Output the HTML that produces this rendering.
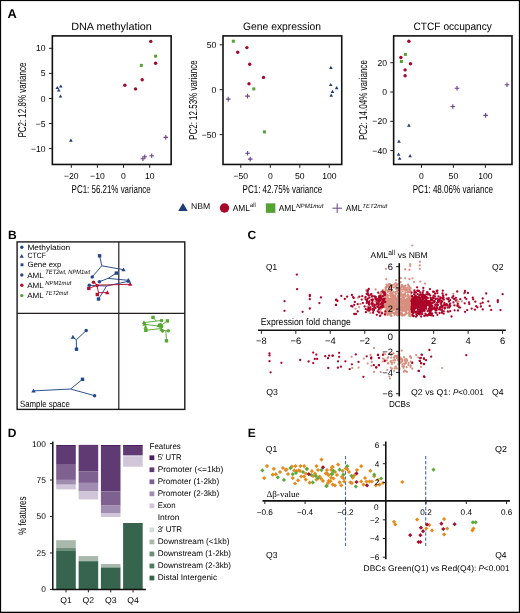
<!DOCTYPE html><html><head><meta charset="utf-8"><style>html,body{margin:0;padding:0;background:#fff}svg{display:block;filter:blur(0.35px)}text{font-family:"Liberation Sans",sans-serif;text-rendering:geometricPrecision}</style></head><body>
<svg width="520" height="613" viewBox="0 0 520 613">
<rect x="0" y="0" width="520" height="613" fill="#fff"/>
<text x="7.60" y="18.10" font-size="12.8" font-weight="bold" fill="#000">A</text>
<rect x="52.35" y="35.90" width="118.80" height="128.55" fill="none" stroke="#111" stroke-width="1.6"/>
<text x="71.20" y="29.90" font-size="10.7" textLength="80.70" lengthAdjust="spacingAndGlyphs">DNA methylation</text>
<text x="111.15" y="192.90" font-size="11.4" text-anchor="middle" textLength="79.10" lengthAdjust="spacingAndGlyphs">PC1: 56.21% variance</text>
<text x="25.90" y="100.10" font-size="11.4" text-anchor="middle" textLength="75.00" lengthAdjust="spacingAndGlyphs" transform="rotate(-90 25.90 100.10)">PC2: 12.8% variance</text>
<line x1="48.95" y1="48.30" x2="52.35" y2="48.30" stroke="#231f20" stroke-width="1.0"/>
<text x="45.65" y="51.35" font-size="8.6" text-anchor="end">10</text>
<line x1="48.95" y1="73.40" x2="52.35" y2="73.40" stroke="#231f20" stroke-width="1.0"/>
<text x="45.65" y="76.45" font-size="8.6" text-anchor="end">5</text>
<line x1="48.95" y1="98.50" x2="52.35" y2="98.50" stroke="#231f20" stroke-width="1.0"/>
<text x="45.65" y="101.55" font-size="8.6" text-anchor="end">0</text>
<line x1="48.95" y1="123.50" x2="52.35" y2="123.50" stroke="#231f20" stroke-width="1.0"/>
<text x="45.65" y="126.55" font-size="8.6" text-anchor="end">−5</text>
<line x1="48.95" y1="148.60" x2="52.35" y2="148.60" stroke="#231f20" stroke-width="1.0"/>
<text x="45.65" y="151.65" font-size="8.6" text-anchor="end">−10</text>
<line x1="71.30" y1="164.45" x2="71.30" y2="167.85" stroke="#231f20" stroke-width="1.0"/>
<text x="71.30" y="178.70" font-size="8.6" text-anchor="middle">−20</text>
<line x1="97.40" y1="164.45" x2="97.40" y2="167.85" stroke="#231f20" stroke-width="1.0"/>
<text x="97.40" y="178.70" font-size="8.6" text-anchor="middle">−10</text>
<line x1="123.50" y1="164.45" x2="123.50" y2="167.85" stroke="#231f20" stroke-width="1.0"/>
<text x="123.50" y="178.70" font-size="8.6" text-anchor="middle">0</text>
<line x1="149.70" y1="164.45" x2="149.70" y2="167.85" stroke="#231f20" stroke-width="1.0"/>
<text x="149.70" y="178.70" font-size="8.6" text-anchor="middle">10</text>
<rect x="223.00" y="35.90" width="118.73" height="128.55" fill="none" stroke="#111" stroke-width="1.6"/>
<text x="243.10" y="29.90" font-size="10.7" textLength="77.90" lengthAdjust="spacingAndGlyphs">Gene expression</text>
<text x="282.37" y="192.90" font-size="11.4" text-anchor="middle" textLength="79.60" lengthAdjust="spacingAndGlyphs">PC1: 42.75% variance</text>
<text x="196.55" y="100.10" font-size="11.4" text-anchor="middle" textLength="79.60" lengthAdjust="spacingAndGlyphs" transform="rotate(-90 196.55 100.10)">PC2: 12.53% variance</text>
<line x1="219.60" y1="44.80" x2="223.00" y2="44.80" stroke="#231f20" stroke-width="1.0"/>
<text x="216.30" y="47.85" font-size="8.6" text-anchor="end">50</text>
<line x1="219.60" y1="89.70" x2="223.00" y2="89.70" stroke="#231f20" stroke-width="1.0"/>
<text x="216.30" y="92.75" font-size="8.6" text-anchor="end">0</text>
<line x1="219.60" y1="134.60" x2="223.00" y2="134.60" stroke="#231f20" stroke-width="1.0"/>
<text x="216.30" y="137.65" font-size="8.6" text-anchor="end">−50</text>
<line x1="240.80" y1="164.45" x2="240.80" y2="167.85" stroke="#231f20" stroke-width="1.0"/>
<text x="240.80" y="178.70" font-size="8.6" text-anchor="middle">−50</text>
<line x1="270.30" y1="164.45" x2="270.30" y2="167.85" stroke="#231f20" stroke-width="1.0"/>
<text x="270.30" y="178.70" font-size="8.6" text-anchor="middle">0</text>
<line x1="299.80" y1="164.45" x2="299.80" y2="167.85" stroke="#231f20" stroke-width="1.0"/>
<text x="299.80" y="178.70" font-size="8.6" text-anchor="middle">50</text>
<line x1="329.30" y1="164.45" x2="329.30" y2="167.85" stroke="#231f20" stroke-width="1.0"/>
<text x="329.30" y="178.70" font-size="8.6" text-anchor="middle">100</text>
<rect x="393.65" y="35.90" width="118.35" height="128.55" fill="none" stroke="#111" stroke-width="1.6"/>
<text x="413.50" y="29.90" font-size="10.7" textLength="78.40" lengthAdjust="spacingAndGlyphs">CTCF occupancy</text>
<text x="452.82" y="192.90" font-size="11.4" text-anchor="middle" textLength="80.20" lengthAdjust="spacingAndGlyphs">PC1: 48.06% variance</text>
<text x="367.20" y="100.10" font-size="11.4" text-anchor="middle" textLength="79.90" lengthAdjust="spacingAndGlyphs" transform="rotate(-90 367.20 100.10)">PC2: 14.04% variance</text>
<line x1="390.25" y1="62.70" x2="393.65" y2="62.70" stroke="#231f20" stroke-width="1.0"/>
<text x="386.95" y="65.75" font-size="8.6" text-anchor="end">20</text>
<line x1="390.25" y1="92.00" x2="393.65" y2="92.00" stroke="#231f20" stroke-width="1.0"/>
<text x="386.95" y="95.05" font-size="8.6" text-anchor="end">0</text>
<line x1="390.25" y1="121.30" x2="393.65" y2="121.30" stroke="#231f20" stroke-width="1.0"/>
<text x="386.95" y="124.35" font-size="8.6" text-anchor="end">−20</text>
<line x1="390.25" y1="150.60" x2="393.65" y2="150.60" stroke="#231f20" stroke-width="1.0"/>
<text x="386.95" y="153.65" font-size="8.6" text-anchor="end">−40</text>
<line x1="421.50" y1="164.45" x2="421.50" y2="167.85" stroke="#231f20" stroke-width="1.0"/>
<text x="421.50" y="178.70" font-size="8.6" text-anchor="middle">0</text>
<line x1="453.40" y1="164.45" x2="453.40" y2="167.85" stroke="#231f20" stroke-width="1.0"/>
<text x="453.40" y="178.70" font-size="8.6" text-anchor="middle">50</text>
<line x1="485.40" y1="164.45" x2="485.40" y2="167.85" stroke="#231f20" stroke-width="1.0"/>
<text x="485.40" y="178.70" font-size="8.6" text-anchor="middle">100</text>
<path d="M57.30 85.92L59.10 89.05L55.50 89.05Z" fill="#1d3b78"/>
<path d="M58.80 88.42L60.60 91.55L57.00 91.55Z" fill="#1d3b78"/>
<path d="M60.80 84.42L62.60 87.55L59.00 87.55Z" fill="#1d3b78"/>
<path d="M60.45 94.42L62.25 97.55L58.65 97.55Z" fill="#1d3b78"/>
<path d="M70.90 138.52L72.70 141.65L69.10 141.65Z" fill="#1d3b78"/>
<circle cx="150.80" cy="41.40" r="1.7" fill="#a8062a"/>
<circle cx="155.60" cy="63.30" r="1.7" fill="#a8062a"/>
<circle cx="142.20" cy="79.70" r="1.7" fill="#a8062a"/>
<circle cx="124.90" cy="85.20" r="1.7" fill="#a8062a"/>
<circle cx="135.50" cy="88.90" r="1.7" fill="#a8062a"/>
<rect x="154.10" y="54.70" width="3.0" height="3.0" fill="#54a232"/>
<rect x="139.80" y="63.90" width="3.0" height="3.0" fill="#54a232"/>
<path d="M163.50 137.40H168.10M165.80 135.10V139.70" stroke="#6a4289" stroke-width="1.1" fill="none"/>
<path d="M149.40 155.80H154.00M151.70 153.50V158.10" stroke="#6a4289" stroke-width="1.1" fill="none"/>
<path d="M142.50 156.80H147.10M144.80 154.50V159.10" stroke="#6a4289" stroke-width="1.1" fill="none"/>
<path d="M140.60 158.80H145.20M142.90 156.50V161.10" stroke="#6a4289" stroke-width="1.1" fill="none"/>
<path d="M330.90 65.82L332.70 68.95L329.10 68.95Z" fill="#1d3b78"/>
<path d="M330.70 82.92L332.50 86.05L328.90 86.05Z" fill="#1d3b78"/>
<path d="M336.70 86.12L338.50 89.25L334.90 89.25Z" fill="#1d3b78"/>
<path d="M332.50 89.82L334.30 92.95L330.70 92.95Z" fill="#1d3b78"/>
<path d="M331.20 93.52L333.00 96.65L329.40 96.65Z" fill="#1d3b78"/>
<circle cx="246.90" cy="47.60" r="1.7" fill="#a8062a"/>
<circle cx="237.70" cy="52.20" r="1.7" fill="#a8062a"/>
<circle cx="249.70" cy="64.20" r="1.7" fill="#a8062a"/>
<circle cx="263.50" cy="77.40" r="1.7" fill="#a8062a"/>
<circle cx="249.00" cy="83.80" r="1.7" fill="#a8062a"/>
<rect x="231.80" y="39.70" width="3.0" height="3.0" fill="#54a232"/>
<rect x="252.30" y="87.40" width="3.0" height="3.0" fill="#54a232"/>
<rect x="263.00" y="130.40" width="3.0" height="3.0" fill="#54a232"/>
<path d="M225.90 99.10H230.50M228.20 96.80V101.40" stroke="#6a4289" stroke-width="1.1" fill="none"/>
<path d="M245.30 96.10H249.90M247.60 93.80V98.40" stroke="#6a4289" stroke-width="1.1" fill="none"/>
<path d="M245.30 153.30H249.90M247.60 151.00V155.60" stroke="#6a4289" stroke-width="1.1" fill="none"/>
<path d="M247.90 159.10H252.50M250.20 156.80V161.40" stroke="#6a4289" stroke-width="1.1" fill="none"/>
<path d="M408.90 123.62L410.70 126.75L407.10 126.75Z" fill="#1d3b78"/>
<path d="M399.00 139.62L400.80 142.75L397.20 142.75Z" fill="#1d3b78"/>
<path d="M398.60 152.52L400.40 155.65L396.80 155.65Z" fill="#1d3b78"/>
<path d="M399.70 156.72L401.50 159.85L397.90 159.85Z" fill="#1d3b78"/>
<path d="M410.10 154.12L411.90 157.25L408.30 157.25Z" fill="#1d3b78"/>
<circle cx="408.90" cy="41.30" r="1.7" fill="#a8062a"/>
<circle cx="400.90" cy="57.50" r="1.7" fill="#a8062a"/>
<circle cx="410.50" cy="63.80" r="1.7" fill="#a8062a"/>
<circle cx="405.10" cy="69.90" r="1.7" fill="#a8062a"/>
<circle cx="405.10" cy="75.80" r="1.7" fill="#a8062a"/>
<rect x="403.90" y="52.90" width="3.0" height="3.0" fill="#54a232"/>
<rect x="399.90" y="60.00" width="3.0" height="3.0" fill="#54a232"/>
<path d="M454.70 88.20H459.30M457.00 85.90V90.50" stroke="#6a4289" stroke-width="1.1" fill="none"/>
<path d="M504.70 84.70H509.30M507.00 82.40V87.00" stroke="#6a4289" stroke-width="1.1" fill="none"/>
<path d="M450.50 106.50H455.10M452.80 104.20V108.80" stroke="#6a4289" stroke-width="1.1" fill="none"/>
<path d="M483.30 115.40H487.90M485.60 113.10V117.70" stroke="#6a4289" stroke-width="1.1" fill="none"/>
<path d="M182.95 202.9L187.7 211.0L178.2 211.0Z" fill="#1d3b78"/>
<text x="191.10" y="209.10" font-size="8.4" textLength="19.20" lengthAdjust="spacingAndGlyphs">NBM</text>
<circle cx="224.50" cy="208.00" r="4.7" fill="#a8062a"/>
<text x="232.70" y="211.00" font-size="8.7" textLength="17.20" lengthAdjust="spacingAndGlyphs">AML</text>
<text x="250.10" y="207.40" font-size="6.2" textLength="5.60" lengthAdjust="spacingAndGlyphs">all</text>
<rect x="265.85" y="203.35" width="9.5" height="9.5" fill="#54a232"/>
<text x="278.70" y="210.70" font-size="8.6" textLength="17.20" lengthAdjust="spacingAndGlyphs">AML</text>
<text x="296.20" y="207.70" font-size="6.1" textLength="27.20" lengthAdjust="spacingAndGlyphs" font-style="italic">NPM1mut</text>
<path d="M332.40 208.20H342.00M337.20 203.40V213.00" stroke="#6a4289" stroke-width="1.0" fill="none"/>
<text x="346.00" y="211.00" font-size="8.6" textLength="16.00" lengthAdjust="spacingAndGlyphs">AML</text>
<text x="362.30" y="208.10" font-size="6.0" textLength="25.00" lengthAdjust="spacingAndGlyphs" font-style="italic">TET2mut</text>
<text x="7.90" y="238.50" font-size="12.0" font-weight="bold" fill="#000">B</text>
<rect x="17.1" y="241.9" width="167.7" height="167.5" fill="none" stroke="#1a1a1a" stroke-width="1.4"/>
<line x1="118.80" y1="241.90" x2="118.80" y2="409.40" stroke="#231f20" stroke-width="1.2"/>
<line x1="17.10" y1="313.30" x2="184.80" y2="313.30" stroke="#231f20" stroke-width="1.2"/>
<line x1="101.80" y1="265.80" x2="92.20" y2="276.90" stroke="#23478a" stroke-width="0.95"/>
<line x1="101.80" y1="265.80" x2="123.50" y2="269.70" stroke="#23478a" stroke-width="0.95"/>
<line x1="101.80" y1="265.80" x2="99.60" y2="255.80" stroke="#23478a" stroke-width="0.95"/>
<circle cx="92.20" cy="276.90" r="1.75" fill="#23478a"/>
<path d="M123.50 267.40L125.70 271.23L121.30 271.23Z" fill="#23478a"/>
<rect x="97.90" y="254.10" width="3.4" height="3.4" fill="#23478a"/>
<line x1="108.10" y1="278.40" x2="99.40" y2="281.70" stroke="#23478a" stroke-width="0.95"/>
<line x1="108.10" y1="278.40" x2="128.30" y2="280.30" stroke="#23478a" stroke-width="0.95"/>
<line x1="108.10" y1="278.40" x2="116.30" y2="273.10" stroke="#23478a" stroke-width="0.95"/>
<circle cx="99.40" cy="281.70" r="1.75" fill="#23478a"/>
<path d="M128.30 278.00L130.50 281.83L126.10 281.83Z" fill="#23478a"/>
<rect x="114.60" y="271.40" width="3.4" height="3.4" fill="#23478a"/>
<line x1="106.60" y1="286.00" x2="89.30" y2="285.30" stroke="#23478a" stroke-width="0.95"/>
<line x1="106.60" y1="286.00" x2="128.80" y2="281.20" stroke="#23478a" stroke-width="0.95"/>
<line x1="106.60" y1="286.00" x2="98.50" y2="299.00" stroke="#23478a" stroke-width="0.95"/>
<circle cx="89.30" cy="285.30" r="1.75" fill="#23478a"/>
<path d="M128.80 278.90L131.00 282.73L126.60 282.73Z" fill="#23478a"/>
<rect x="96.80" y="297.30" width="3.4" height="3.4" fill="#23478a"/>
<line x1="76.30" y1="339.80" x2="86.20" y2="330.60" stroke="#23478a" stroke-width="0.95"/>
<line x1="76.30" y1="339.80" x2="72.90" y2="337.10" stroke="#23478a" stroke-width="0.95"/>
<line x1="76.30" y1="339.80" x2="76.50" y2="349.20" stroke="#23478a" stroke-width="0.95"/>
<circle cx="86.20" cy="330.60" r="1.75" fill="#23478a"/>
<path d="M72.90 334.80L75.10 338.63L70.70 338.63Z" fill="#23478a"/>
<rect x="74.80" y="347.50" width="3.4" height="3.4" fill="#23478a"/>
<line x1="70.60" y1="389.00" x2="94.60" y2="395.70" stroke="#23478a" stroke-width="0.95"/>
<line x1="70.60" y1="389.00" x2="33.50" y2="390.90" stroke="#23478a" stroke-width="0.95"/>
<line x1="70.60" y1="389.00" x2="82.50" y2="379.30" stroke="#23478a" stroke-width="0.95"/>
<circle cx="94.60" cy="395.70" r="1.75" fill="#23478a"/>
<path d="M33.50 388.60L35.70 392.43L31.30 392.43Z" fill="#23478a"/>
<rect x="80.80" y="377.60" width="3.4" height="3.4" fill="#23478a"/>
<line x1="97.50" y1="285.10" x2="93.50" y2="282.20" stroke="#b4102f" stroke-width="0.95"/>
<line x1="97.50" y1="285.10" x2="130.20" y2="284.30" stroke="#b4102f" stroke-width="0.95"/>
<line x1="97.50" y1="285.10" x2="88.80" y2="288.40" stroke="#b4102f" stroke-width="0.95"/>
<circle cx="93.50" cy="282.20" r="1.75" fill="#b4102f"/>
<path d="M130.20 282.00L132.40 285.83L128.00 285.83Z" fill="#b4102f"/>
<rect x="87.10" y="286.70" width="3.4" height="3.4" fill="#b4102f"/>
<line x1="98.50" y1="292.60" x2="97.00" y2="285.50" stroke="#b4102f" stroke-width="0.95"/>
<line x1="98.50" y1="292.60" x2="107.30" y2="292.60" stroke="#b4102f" stroke-width="0.95"/>
<line x1="98.50" y1="292.60" x2="97.30" y2="294.50" stroke="#b4102f" stroke-width="0.95"/>
<circle cx="97.00" cy="285.50" r="1.75" fill="#b4102f"/>
<path d="M107.30 290.30L109.50 294.13L105.10 294.13Z" fill="#b4102f"/>
<rect x="95.60" y="292.80" width="3.4" height="3.4" fill="#b4102f"/>
<line x1="156.30" y1="321.10" x2="161.50" y2="320.50" stroke="#56a631" stroke-width="0.95"/>
<line x1="156.30" y1="321.10" x2="144.00" y2="322.60" stroke="#56a631" stroke-width="0.95"/>
<line x1="156.30" y1="321.10" x2="153.00" y2="317.40" stroke="#56a631" stroke-width="0.95"/>
<circle cx="161.50" cy="320.50" r="1.75" fill="#56a631"/>
<path d="M144.00 320.30L146.20 324.13L141.80 324.13Z" fill="#56a631"/>
<rect x="151.30" y="315.70" width="3.4" height="3.4" fill="#56a631"/>
<line x1="159.80" y1="326.30" x2="160.50" y2="324.80" stroke="#56a631" stroke-width="0.95"/>
<line x1="159.80" y1="326.30" x2="144.60" y2="324.20" stroke="#56a631" stroke-width="0.95"/>
<line x1="159.80" y1="326.30" x2="167.40" y2="320.90" stroke="#56a631" stroke-width="0.95"/>
<circle cx="160.50" cy="324.80" r="1.75" fill="#56a631"/>
<path d="M144.60 321.90L146.80 325.73L142.40 325.73Z" fill="#56a631"/>
<rect x="165.70" y="319.20" width="3.4" height="3.4" fill="#56a631"/>
<line x1="160.50" y1="328.60" x2="162.50" y2="330.90" stroke="#56a631" stroke-width="0.95"/>
<line x1="160.50" y1="328.60" x2="158.80" y2="325.50" stroke="#56a631" stroke-width="0.95"/>
<line x1="160.50" y1="328.60" x2="145.80" y2="330.30" stroke="#56a631" stroke-width="0.95"/>
<circle cx="162.50" cy="330.90" r="1.75" fill="#56a631"/>
<path d="M158.80 323.20L161.00 327.03L156.60 327.03Z" fill="#56a631"/>
<rect x="144.10" y="328.60" width="3.4" height="3.4" fill="#56a631"/>
<line x1="165.80" y1="330.90" x2="168.30" y2="330.70" stroke="#56a631" stroke-width="0.95"/>
<line x1="165.80" y1="330.90" x2="161.50" y2="329.50" stroke="#56a631" stroke-width="0.95"/>
<line x1="165.80" y1="330.90" x2="166.50" y2="340.80" stroke="#56a631" stroke-width="0.95"/>
<circle cx="168.30" cy="330.70" r="1.75" fill="#56a631"/>
<path d="M161.50 327.20L163.70 331.03L159.30 331.03Z" fill="#56a631"/>
<rect x="164.80" y="339.10" width="3.4" height="3.4" fill="#56a631"/>
<rect x="157.90" y="323.90" width="3.4" height="3.4" fill="#56a631"/>
<circle cx="161.60" cy="326.60" r="1.75" fill="#56a631"/>
<path d="M145.60 324.90L147.80 328.73L143.40 328.73Z" fill="#56a631"/>
<circle cx="21.80" cy="247.20" r="1.7" fill="#23478a"/>
<path d="M21.70 254.01L23.80 257.66L19.60 257.66Z" fill="#23478a"/>
<rect x="20.55" y="263.35" width="2.9" height="2.9" fill="#23478a"/>
<circle cx="21.80" cy="275.00" r="1.7" fill="#23478a"/>
<circle cx="21.80" cy="285.30" r="1.7" fill="#b4102f"/>
<circle cx="21.80" cy="295.60" r="1.7" fill="#56a631"/>
<text x="27.40" y="249.80" font-size="7.7" textLength="42.80" lengthAdjust="spacingAndGlyphs">Methylation</text>
<text x="27.40" y="258.20" font-size="7.7" textLength="18.60" lengthAdjust="spacingAndGlyphs">CTCF</text>
<text x="27.40" y="267.00" font-size="7.7" textLength="34.00" lengthAdjust="spacingAndGlyphs">Gene exp</text>
<text x="27.20" y="277.80" font-size="7.6" textLength="16.60" lengthAdjust="spacingAndGlyphs">AML</text>
<text x="45.30" y="273.90" font-size="6.3" textLength="44.70" lengthAdjust="spacingAndGlyphs" font-style="italic">TET2wt, NPM1wt</text>
<text x="27.20" y="287.90" font-size="7.6" textLength="16.60" lengthAdjust="spacingAndGlyphs">AML</text>
<text x="45.30" y="284.50" font-size="6.0" textLength="26.00" lengthAdjust="spacingAndGlyphs" font-style="italic">NPM1mut</text>
<text x="27.20" y="298.30" font-size="7.6" textLength="16.60" lengthAdjust="spacingAndGlyphs">AML</text>
<text x="45.30" y="294.70" font-size="6.0" textLength="22.80" lengthAdjust="spacingAndGlyphs" font-style="italic">TET2mut</text>
<text x="19.90" y="406.80" font-size="9.1" textLength="49.90" lengthAdjust="spacingAndGlyphs">Sample space</text>
<text x="247.60" y="238.70" font-size="12.0" font-weight="bold" fill="#000">C</text>
<g fill="#d88f7f">
<circle cx="393.5" cy="310.2" r="1.1"/>
<circle cx="386.9" cy="313.0" r="1.1"/>
<circle cx="399.0" cy="301.0" r="1.1"/>
<circle cx="398.3" cy="305.2" r="1.1"/>
<circle cx="386.0" cy="300.0" r="1.1"/>
<circle cx="387.4" cy="304.3" r="1.1"/>
<circle cx="396.1" cy="305.0" r="1.1"/>
<circle cx="390.8" cy="299.1" r="1.1"/>
<circle cx="401.4" cy="313.6" r="1.1"/>
<circle cx="395.4" cy="299.4" r="1.1"/>
<circle cx="410.6" cy="307.8" r="1.1"/>
<circle cx="392.6" cy="305.6" r="1.1"/>
<circle cx="393.1" cy="306.4" r="1.1"/>
<circle cx="406.4" cy="307.7" r="1.1"/>
<circle cx="401.7" cy="313.2" r="1.1"/>
<circle cx="394.8" cy="300.1" r="1.1"/>
<circle cx="386.6" cy="302.1" r="1.1"/>
<circle cx="390.4" cy="299.2" r="1.1"/>
<circle cx="393.2" cy="294.9" r="1.1"/>
<circle cx="400.3" cy="296.1" r="1.1"/>
<circle cx="405.8" cy="305.1" r="1.1"/>
<circle cx="403.3" cy="303.4" r="1.1"/>
<circle cx="398.8" cy="314.1" r="1.1"/>
<circle cx="407.9" cy="302.1" r="1.1"/>
<circle cx="410.7" cy="296.1" r="1.1"/>
<circle cx="388.1" cy="290.6" r="1.1"/>
<circle cx="389.0" cy="310.0" r="1.1"/>
<circle cx="397.8" cy="315.2" r="1.1"/>
<circle cx="405.0" cy="306.1" r="1.1"/>
<circle cx="400.0" cy="308.2" r="1.1"/>
<circle cx="403.2" cy="297.8" r="1.1"/>
<circle cx="400.6" cy="294.8" r="1.1"/>
<circle cx="407.0" cy="298.5" r="1.1"/>
<circle cx="409.8" cy="290.6" r="1.1"/>
<circle cx="386.6" cy="305.0" r="1.1"/>
<circle cx="403.4" cy="286.9" r="1.1"/>
<circle cx="406.5" cy="301.2" r="1.1"/>
<circle cx="402.5" cy="311.2" r="1.1"/>
<circle cx="385.6" cy="298.0" r="1.1"/>
<circle cx="388.1" cy="304.2" r="1.1"/>
<circle cx="386.5" cy="303.5" r="1.1"/>
<circle cx="391.5" cy="298.6" r="1.1"/>
<circle cx="395.2" cy="305.4" r="1.1"/>
<circle cx="396.8" cy="300.5" r="1.1"/>
<circle cx="399.4" cy="314.7" r="1.1"/>
<circle cx="407.6" cy="292.5" r="1.1"/>
<circle cx="392.3" cy="296.1" r="1.1"/>
<circle cx="408.2" cy="307.1" r="1.1"/>
<circle cx="410.1" cy="306.1" r="1.1"/>
<circle cx="391.1" cy="307.3" r="1.1"/>
<circle cx="391.1" cy="291.7" r="1.1"/>
<circle cx="391.9" cy="304.1" r="1.1"/>
<circle cx="385.1" cy="295.9" r="1.1"/>
<circle cx="399.8" cy="307.0" r="1.1"/>
<circle cx="410.0" cy="299.3" r="1.1"/>
<circle cx="401.2" cy="293.5" r="1.1"/>
<circle cx="402.7" cy="309.1" r="1.1"/>
<circle cx="405.4" cy="313.7" r="1.1"/>
<circle cx="395.3" cy="292.2" r="1.1"/>
<circle cx="395.5" cy="312.6" r="1.1"/>
<circle cx="386.6" cy="310.3" r="1.1"/>
<circle cx="386.8" cy="304.3" r="1.1"/>
<circle cx="393.9" cy="307.9" r="1.1"/>
<circle cx="386.4" cy="307.9" r="1.1"/>
<circle cx="387.7" cy="303.0" r="1.1"/>
<circle cx="394.5" cy="305.8" r="1.1"/>
<circle cx="401.1" cy="306.9" r="1.1"/>
<circle cx="394.1" cy="308.2" r="1.1"/>
<circle cx="394.5" cy="314.8" r="1.1"/>
<circle cx="411.0" cy="314.5" r="1.1"/>
<circle cx="397.2" cy="299.4" r="1.1"/>
<circle cx="387.7" cy="303.4" r="1.1"/>
<circle cx="394.0" cy="301.5" r="1.1"/>
<circle cx="389.2" cy="306.0" r="1.1"/>
<circle cx="398.8" cy="309.4" r="1.1"/>
<circle cx="385.7" cy="311.5" r="1.1"/>
<circle cx="398.8" cy="300.7" r="1.1"/>
<circle cx="403.2" cy="302.4" r="1.1"/>
<circle cx="389.4" cy="311.1" r="1.1"/>
<circle cx="405.2" cy="288.5" r="1.1"/>
<circle cx="393.6" cy="300.0" r="1.1"/>
<circle cx="390.8" cy="312.3" r="1.1"/>
<circle cx="407.3" cy="308.4" r="1.1"/>
<circle cx="404.4" cy="288.3" r="1.1"/>
<circle cx="390.9" cy="295.1" r="1.1"/>
<circle cx="385.8" cy="302.1" r="1.1"/>
<circle cx="385.7" cy="301.8" r="1.1"/>
<circle cx="403.1" cy="309.5" r="1.1"/>
<circle cx="410.1" cy="309.5" r="1.1"/>
<circle cx="410.9" cy="310.8" r="1.1"/>
<circle cx="390.8" cy="300.7" r="1.1"/>
<circle cx="390.9" cy="304.9" r="1.1"/>
<circle cx="401.4" cy="308.4" r="1.1"/>
<circle cx="408.6" cy="308.2" r="1.1"/>
<circle cx="402.1" cy="294.8" r="1.1"/>
<circle cx="406.0" cy="313.8" r="1.1"/>
<circle cx="408.8" cy="309.3" r="1.1"/>
<circle cx="405.5" cy="303.0" r="1.1"/>
<circle cx="389.7" cy="293.3" r="1.1"/>
<circle cx="405.7" cy="295.4" r="1.1"/>
<circle cx="410.5" cy="316.3" r="1.1"/>
<circle cx="395.4" cy="286.2" r="1.1"/>
<circle cx="404.0" cy="315.0" r="1.1"/>
<circle cx="389.5" cy="306.4" r="1.1"/>
<circle cx="408.7" cy="306.5" r="1.1"/>
<circle cx="406.1" cy="312.7" r="1.1"/>
<circle cx="410.7" cy="315.6" r="1.1"/>
<circle cx="402.2" cy="296.7" r="1.1"/>
<circle cx="388.4" cy="311.7" r="1.1"/>
<circle cx="385.4" cy="315.1" r="1.1"/>
<circle cx="398.8" cy="300.8" r="1.1"/>
<circle cx="409.5" cy="287.2" r="1.1"/>
<circle cx="406.6" cy="310.0" r="1.1"/>
<circle cx="390.5" cy="302.9" r="1.1"/>
<circle cx="391.3" cy="310.1" r="1.1"/>
<circle cx="400.4" cy="302.5" r="1.1"/>
<circle cx="388.4" cy="311.8" r="1.1"/>
<circle cx="408.8" cy="297.3" r="1.1"/>
<circle cx="400.3" cy="310.5" r="1.1"/>
<circle cx="408.7" cy="286.3" r="1.1"/>
<circle cx="398.1" cy="312.1" r="1.1"/>
<circle cx="398.9" cy="301.4" r="1.1"/>
<circle cx="396.5" cy="302.8" r="1.1"/>
<circle cx="389.8" cy="303.4" r="1.1"/>
<circle cx="389.5" cy="289.5" r="1.1"/>
<circle cx="399.6" cy="305.3" r="1.1"/>
<circle cx="393.5" cy="292.2" r="1.1"/>
<circle cx="405.5" cy="301.8" r="1.1"/>
<circle cx="387.8" cy="297.0" r="1.1"/>
<circle cx="392.3" cy="300.6" r="1.1"/>
<circle cx="405.2" cy="292.1" r="1.1"/>
<circle cx="404.9" cy="302.5" r="1.1"/>
<circle cx="408.9" cy="292.0" r="1.1"/>
<circle cx="398.2" cy="307.1" r="1.1"/>
<circle cx="398.4" cy="299.7" r="1.1"/>
<circle cx="399.0" cy="294.3" r="1.1"/>
<circle cx="397.5" cy="315.3" r="1.1"/>
<circle cx="408.0" cy="298.3" r="1.1"/>
<circle cx="409.7" cy="302.3" r="1.1"/>
<circle cx="409.7" cy="313.9" r="1.1"/>
<circle cx="407.0" cy="305.8" r="1.1"/>
<circle cx="396.6" cy="306.3" r="1.1"/>
<circle cx="386.9" cy="303.2" r="1.1"/>
<circle cx="402.5" cy="306.3" r="1.1"/>
<circle cx="405.5" cy="306.9" r="1.1"/>
<circle cx="403.8" cy="300.0" r="1.1"/>
<circle cx="402.3" cy="314.0" r="1.1"/>
<circle cx="410.3" cy="307.0" r="1.1"/>
<circle cx="395.4" cy="305.1" r="1.1"/>
<circle cx="406.8" cy="307.8" r="1.1"/>
<circle cx="398.5" cy="310.7" r="1.1"/>
<circle cx="393.9" cy="305.5" r="1.1"/>
<circle cx="403.9" cy="310.0" r="1.1"/>
<circle cx="385.5" cy="294.4" r="1.1"/>
<circle cx="385.5" cy="299.9" r="1.1"/>
<circle cx="393.7" cy="295.7" r="1.1"/>
<circle cx="386.7" cy="295.8" r="1.1"/>
<circle cx="410.8" cy="308.4" r="1.1"/>
<circle cx="387.7" cy="302.8" r="1.1"/>
<circle cx="405.4" cy="305.4" r="1.1"/>
<circle cx="392.1" cy="309.1" r="1.1"/>
<circle cx="408.9" cy="309.5" r="1.1"/>
<circle cx="406.5" cy="302.7" r="1.1"/>
<circle cx="409.1" cy="307.8" r="1.1"/>
<circle cx="399.9" cy="301.9" r="1.1"/>
<circle cx="386.5" cy="299.5" r="1.1"/>
<circle cx="403.0" cy="300.1" r="1.1"/>
<circle cx="409.6" cy="304.5" r="1.1"/>
<circle cx="401.6" cy="304.1" r="1.1"/>
<circle cx="407.4" cy="299.6" r="1.1"/>
<circle cx="386.7" cy="309.1" r="1.1"/>
<circle cx="393.9" cy="295.9" r="1.1"/>
<circle cx="399.5" cy="309.0" r="1.1"/>
<circle cx="388.4" cy="300.0" r="1.1"/>
<circle cx="398.8" cy="303.3" r="1.1"/>
<circle cx="389.2" cy="307.1" r="1.1"/>
<circle cx="386.3" cy="305.2" r="1.1"/>
<circle cx="393.0" cy="310.0" r="1.1"/>
<circle cx="404.9" cy="300.5" r="1.1"/>
<circle cx="389.7" cy="312.7" r="1.1"/>
<circle cx="394.1" cy="309.4" r="1.1"/>
<circle cx="385.4" cy="303.7" r="1.1"/>
<circle cx="404.2" cy="297.8" r="1.1"/>
<circle cx="397.4" cy="301.3" r="1.1"/>
<circle cx="409.5" cy="315.3" r="1.1"/>
<circle cx="396.3" cy="312.7" r="1.1"/>
<circle cx="398.0" cy="307.3" r="1.1"/>
<circle cx="398.3" cy="295.7" r="1.1"/>
<circle cx="403.0" cy="310.7" r="1.1"/>
<circle cx="406.8" cy="302.1" r="1.1"/>
<circle cx="403.5" cy="297.3" r="1.1"/>
<circle cx="394.1" cy="296.5" r="1.1"/>
<circle cx="386.4" cy="305.2" r="1.1"/>
<circle cx="404.4" cy="305.4" r="1.1"/>
<circle cx="391.7" cy="304.9" r="1.1"/>
<circle cx="407.0" cy="306.1" r="1.1"/>
<circle cx="407.8" cy="299.7" r="1.1"/>
<circle cx="391.3" cy="296.9" r="1.1"/>
<circle cx="392.7" cy="298.2" r="1.1"/>
<circle cx="396.7" cy="304.3" r="1.1"/>
<circle cx="391.9" cy="297.6" r="1.1"/>
<circle cx="399.3" cy="303.8" r="1.1"/>
<circle cx="393.1" cy="302.8" r="1.1"/>
<circle cx="395.0" cy="303.3" r="1.1"/>
<circle cx="397.4" cy="297.3" r="1.1"/>
<circle cx="398.2" cy="302.9" r="1.1"/>
<circle cx="385.1" cy="302.7" r="1.1"/>
<circle cx="395.5" cy="306.7" r="1.1"/>
<circle cx="386.1" cy="310.2" r="1.1"/>
<circle cx="391.1" cy="304.0" r="1.1"/>
<circle cx="400.3" cy="289.1" r="1.1"/>
<circle cx="402.2" cy="300.4" r="1.1"/>
<circle cx="403.8" cy="309.1" r="1.1"/>
<circle cx="393.5" cy="297.2" r="1.1"/>
<circle cx="410.8" cy="311.1" r="1.1"/>
<circle cx="401.9" cy="314.0" r="1.1"/>
<circle cx="386.1" cy="312.2" r="1.1"/>
<circle cx="401.4" cy="287.6" r="1.1"/>
<circle cx="404.2" cy="304.8" r="1.1"/>
<circle cx="398.7" cy="298.7" r="1.1"/>
<circle cx="398.2" cy="310.8" r="1.1"/>
<circle cx="406.7" cy="289.8" r="1.1"/>
<circle cx="400.3" cy="313.1" r="1.1"/>
<circle cx="403.2" cy="295.0" r="1.1"/>
<circle cx="391.0" cy="307.5" r="1.1"/>
<circle cx="394.5" cy="303.9" r="1.1"/>
<circle cx="387.7" cy="308.6" r="1.1"/>
<circle cx="401.4" cy="293.7" r="1.1"/>
<circle cx="401.4" cy="298.8" r="1.1"/>
<circle cx="385.1" cy="294.1" r="1.1"/>
<circle cx="405.9" cy="302.9" r="1.1"/>
<circle cx="399.0" cy="292.9" r="1.1"/>
<circle cx="402.3" cy="315.7" r="1.1"/>
<circle cx="391.6" cy="308.6" r="1.1"/>
<circle cx="387.0" cy="301.7" r="1.1"/>
<circle cx="390.4" cy="301.5" r="1.1"/>
<circle cx="397.9" cy="295.8" r="1.1"/>
<circle cx="402.9" cy="309.5" r="1.1"/>
<circle cx="405.1" cy="294.0" r="1.1"/>
<circle cx="387.0" cy="294.8" r="1.1"/>
<circle cx="388.9" cy="302.7" r="1.1"/>
<circle cx="393.0" cy="301.8" r="1.1"/>
<circle cx="386.6" cy="302.4" r="1.1"/>
<circle cx="392.0" cy="296.9" r="1.1"/>
<circle cx="402.7" cy="291.5" r="1.1"/>
<circle cx="392.6" cy="293.5" r="1.1"/>
<circle cx="397.2" cy="302.0" r="1.1"/>
<circle cx="388.1" cy="307.4" r="1.1"/>
<circle cx="410.6" cy="299.5" r="1.1"/>
<circle cx="409.5" cy="312.4" r="1.1"/>
<circle cx="406.5" cy="304.0" r="1.1"/>
<circle cx="410.4" cy="296.6" r="1.1"/>
<circle cx="390.5" cy="305.1" r="1.1"/>
<circle cx="409.8" cy="305.7" r="1.1"/>
<circle cx="388.7" cy="313.9" r="1.1"/>
<circle cx="398.7" cy="307.3" r="1.1"/>
<circle cx="406.5" cy="301.7" r="1.1"/>
<circle cx="398.3" cy="313.0" r="1.1"/>
<circle cx="391.1" cy="294.4" r="1.1"/>
<circle cx="408.5" cy="301.1" r="1.1"/>
<circle cx="385.1" cy="303.2" r="1.1"/>
<circle cx="397.9" cy="296.1" r="1.1"/>
<circle cx="388.7" cy="305.2" r="1.1"/>
<circle cx="394.0" cy="296.4" r="1.1"/>
<circle cx="385.0" cy="303.1" r="1.1"/>
<circle cx="388.1" cy="286.8" r="1.1"/>
<circle cx="409.3" cy="298.8" r="1.1"/>
<circle cx="392.6" cy="285.2" r="1.1"/>
<circle cx="394.8" cy="296.2" r="1.1"/>
<circle cx="396.2" cy="298.7" r="1.1"/>
<circle cx="392.2" cy="306.8" r="1.1"/>
<circle cx="406.9" cy="304.2" r="1.1"/>
<circle cx="392.5" cy="308.9" r="1.1"/>
<circle cx="392.0" cy="300.5" r="1.1"/>
<circle cx="398.4" cy="306.0" r="1.1"/>
<circle cx="410.1" cy="310.6" r="1.1"/>
<circle cx="408.2" cy="307.6" r="1.1"/>
<circle cx="408.9" cy="291.9" r="1.1"/>
<circle cx="409.6" cy="290.1" r="1.1"/>
<circle cx="386.3" cy="298.9" r="1.1"/>
<circle cx="404.2" cy="289.5" r="1.1"/>
<circle cx="401.9" cy="307.3" r="1.1"/>
<circle cx="392.5" cy="308.9" r="1.1"/>
<circle cx="388.3" cy="295.3" r="1.1"/>
<circle cx="392.8" cy="304.4" r="1.1"/>
<circle cx="404.4" cy="309.5" r="1.1"/>
<circle cx="402.2" cy="302.0" r="1.1"/>
<circle cx="392.9" cy="295.0" r="1.1"/>
<circle cx="389.4" cy="300.0" r="1.1"/>
<circle cx="389.2" cy="307.8" r="1.1"/>
<circle cx="398.0" cy="306.5" r="1.1"/>
<circle cx="411.1" cy="298.6" r="1.1"/>
<circle cx="390.0" cy="304.4" r="1.1"/>
<circle cx="387.4" cy="301.0" r="1.1"/>
<circle cx="391.3" cy="306.1" r="1.1"/>
<circle cx="391.8" cy="286.9" r="1.1"/>
<circle cx="404.6" cy="295.5" r="1.1"/>
<circle cx="395.8" cy="294.1" r="1.1"/>
<circle cx="394.9" cy="308.3" r="1.1"/>
<circle cx="393.9" cy="309.3" r="1.1"/>
<circle cx="410.4" cy="305.6" r="1.1"/>
<circle cx="388.3" cy="291.0" r="1.1"/>
<circle cx="407.6" cy="302.7" r="1.1"/>
<circle cx="390.7" cy="302.2" r="1.1"/>
<circle cx="395.5" cy="309.4" r="1.1"/>
<circle cx="396.7" cy="298.3" r="1.1"/>
<circle cx="407.9" cy="305.2" r="1.1"/>
<circle cx="403.6" cy="303.3" r="1.1"/>
<circle cx="408.5" cy="291.9" r="1.1"/>
<circle cx="385.0" cy="304.9" r="1.1"/>
<circle cx="395.3" cy="296.0" r="1.1"/>
<circle cx="407.4" cy="309.3" r="1.1"/>
<circle cx="387.9" cy="301.9" r="1.1"/>
<circle cx="389.0" cy="290.3" r="1.1"/>
<circle cx="409.7" cy="301.2" r="1.1"/>
<circle cx="403.9" cy="294.3" r="1.1"/>
<circle cx="397.0" cy="291.4" r="1.1"/>
<circle cx="399.4" cy="306.7" r="1.1"/>
<circle cx="391.1" cy="313.7" r="1.1"/>
<circle cx="393.0" cy="297.1" r="1.1"/>
<circle cx="388.4" cy="302.9" r="1.1"/>
<circle cx="403.3" cy="315.1" r="1.1"/>
<circle cx="387.9" cy="312.4" r="1.1"/>
<circle cx="400.3" cy="307.4" r="1.1"/>
<circle cx="395.2" cy="304.9" r="1.1"/>
<circle cx="385.3" cy="314.4" r="1.1"/>
<circle cx="392.9" cy="308.3" r="1.1"/>
<circle cx="401.9" cy="310.2" r="1.1"/>
<circle cx="391.2" cy="296.6" r="1.1"/>
<circle cx="391.5" cy="315.9" r="1.1"/>
<circle cx="393.1" cy="299.7" r="1.1"/>
<circle cx="385.6" cy="290.3" r="1.1"/>
<circle cx="396.0" cy="303.1" r="1.1"/>
<circle cx="391.7" cy="293.4" r="1.1"/>
<circle cx="390.9" cy="286.2" r="1.1"/>
<circle cx="385.9" cy="298.3" r="1.1"/>
<circle cx="402.9" cy="310.6" r="1.1"/>
<circle cx="390.2" cy="307.1" r="1.1"/>
<circle cx="398.2" cy="289.7" r="1.1"/>
<circle cx="390.4" cy="310.2" r="1.1"/>
<circle cx="406.5" cy="301.6" r="1.1"/>
<circle cx="391.0" cy="305.6" r="1.1"/>
<circle cx="392.7" cy="312.5" r="1.1"/>
<circle cx="389.9" cy="300.0" r="1.1"/>
<circle cx="390.9" cy="292.1" r="1.1"/>
<circle cx="409.9" cy="309.3" r="1.1"/>
<circle cx="388.8" cy="298.4" r="1.1"/>
<circle cx="410.5" cy="306.7" r="1.1"/>
<circle cx="388.7" cy="305.8" r="1.1"/>
<circle cx="395.3" cy="304.0" r="1.1"/>
<circle cx="408.5" cy="313.3" r="1.1"/>
<circle cx="411.1" cy="293.8" r="1.1"/>
<circle cx="409.4" cy="300.4" r="1.1"/>
<circle cx="409.5" cy="307.8" r="1.1"/>
<circle cx="404.6" cy="315.3" r="1.1"/>
<circle cx="394.9" cy="305.5" r="1.1"/>
<circle cx="394.8" cy="300.5" r="1.1"/>
<circle cx="385.1" cy="307.5" r="1.1"/>
<circle cx="392.3" cy="290.4" r="1.1"/>
<circle cx="388.2" cy="308.7" r="1.1"/>
<circle cx="394.3" cy="301.7" r="1.1"/>
<circle cx="406.5" cy="307.0" r="1.1"/>
<circle cx="386.3" cy="294.9" r="1.1"/>
<circle cx="397.4" cy="289.7" r="1.1"/>
<circle cx="390.1" cy="291.1" r="1.1"/>
<circle cx="385.8" cy="289.8" r="1.1"/>
<circle cx="405.1" cy="311.3" r="1.1"/>
<circle cx="386.1" cy="306.0" r="1.1"/>
<circle cx="409.1" cy="303.7" r="1.1"/>
<circle cx="391.7" cy="302.7" r="1.1"/>
<circle cx="393.9" cy="300.0" r="1.1"/>
<circle cx="401.2" cy="302.0" r="1.1"/>
<circle cx="393.3" cy="302.9" r="1.1"/>
<circle cx="404.8" cy="303.7" r="1.1"/>
<circle cx="409.0" cy="289.4" r="1.1"/>
<circle cx="385.6" cy="287.8" r="1.1"/>
<circle cx="391.1" cy="306.3" r="1.1"/>
<circle cx="410.0" cy="298.1" r="1.1"/>
<circle cx="396.3" cy="307.2" r="1.1"/>
<circle cx="397.9" cy="307.9" r="1.1"/>
<circle cx="406.0" cy="300.6" r="1.1"/>
<circle cx="404.3" cy="309.5" r="1.1"/>
<circle cx="400.9" cy="289.9" r="1.1"/>
<circle cx="393.6" cy="299.6" r="1.1"/>
<circle cx="405.5" cy="310.3" r="1.1"/>
<circle cx="387.1" cy="307.6" r="1.1"/>
<circle cx="391.5" cy="305.0" r="1.1"/>
<circle cx="399.5" cy="303.9" r="1.1"/>
<circle cx="393.5" cy="300.8" r="1.1"/>
<circle cx="410.9" cy="302.7" r="1.1"/>
<circle cx="387.5" cy="306.5" r="1.1"/>
<circle cx="398.1" cy="300.7" r="1.1"/>
<circle cx="391.1" cy="294.0" r="1.1"/>
<circle cx="395.9" cy="293.7" r="1.1"/>
<circle cx="404.6" cy="294.3" r="1.1"/>
<circle cx="407.2" cy="300.8" r="1.1"/>
<circle cx="407.0" cy="299.3" r="1.1"/>
<circle cx="392.7" cy="295.5" r="1.1"/>
<circle cx="404.3" cy="299.6" r="1.1"/>
<circle cx="390.2" cy="303.1" r="1.1"/>
<circle cx="389.0" cy="309.4" r="1.1"/>
<circle cx="408.2" cy="296.3" r="1.1"/>
<circle cx="395.4" cy="299.4" r="1.1"/>
<circle cx="411.0" cy="296.8" r="1.1"/>
<circle cx="406.2" cy="302.7" r="1.1"/>
<circle cx="402.1" cy="306.9" r="1.1"/>
<circle cx="397.4" cy="302.8" r="1.1"/>
<circle cx="406.5" cy="313.2" r="1.1"/>
<circle cx="386.1" cy="287.1" r="1.1"/>
<circle cx="392.7" cy="307.0" r="1.1"/>
<circle cx="410.5" cy="306.8" r="1.1"/>
<circle cx="400.3" cy="310.4" r="1.1"/>
<circle cx="407.7" cy="299.5" r="1.1"/>
<circle cx="396.8" cy="302.1" r="1.1"/>
<circle cx="409.8" cy="312.0" r="1.1"/>
<circle cx="401.2" cy="310.1" r="1.1"/>
<circle cx="390.7" cy="299.8" r="1.1"/>
<circle cx="390.3" cy="306.4" r="1.1"/>
<circle cx="391.7" cy="293.0" r="1.1"/>
<circle cx="390.3" cy="295.8" r="1.1"/>
<circle cx="385.3" cy="297.0" r="1.1"/>
<circle cx="389.9" cy="314.3" r="1.1"/>
<circle cx="393.2" cy="307.4" r="1.1"/>
<circle cx="399.4" cy="306.6" r="1.1"/>
<circle cx="395.4" cy="304.5" r="1.1"/>
<circle cx="399.4" cy="300.6" r="1.1"/>
<circle cx="389.3" cy="300.1" r="1.1"/>
<circle cx="403.2" cy="297.1" r="1.1"/>
<circle cx="393.1" cy="306.7" r="1.1"/>
<circle cx="410.0" cy="298.8" r="1.1"/>
<circle cx="394.4" cy="313.2" r="1.1"/>
<circle cx="395.9" cy="299.3" r="1.1"/>
<circle cx="404.1" cy="307.3" r="1.1"/>
<circle cx="390.3" cy="303.7" r="1.1"/>
<circle cx="396.1" cy="306.7" r="1.1"/>
<circle cx="408.1" cy="295.2" r="1.1"/>
<circle cx="397.1" cy="303.8" r="1.1"/>
<circle cx="399.5" cy="304.3" r="1.1"/>
<circle cx="401.8" cy="306.1" r="1.1"/>
<circle cx="401.3" cy="301.0" r="1.1"/>
<circle cx="394.7" cy="298.2" r="1.1"/>
<circle cx="392.4" cy="302.9" r="1.1"/>
<circle cx="398.7" cy="306.6" r="1.1"/>
<circle cx="397.9" cy="301.2" r="1.1"/>
<circle cx="406.1" cy="308.5" r="1.1"/>
<circle cx="388.3" cy="301.8" r="1.1"/>
<circle cx="409.7" cy="312.6" r="1.1"/>
<circle cx="386.4" cy="301.5" r="1.1"/>
<circle cx="409.3" cy="289.0" r="1.1"/>
<circle cx="401.3" cy="314.9" r="1.1"/>
<circle cx="406.6" cy="311.0" r="1.1"/>
<circle cx="390.8" cy="315.6" r="1.1"/>
<circle cx="395.6" cy="312.1" r="1.1"/>
<circle cx="389.8" cy="289.9" r="1.1"/>
<circle cx="390.7" cy="294.7" r="1.1"/>
<circle cx="395.0" cy="309.0" r="1.1"/>
<circle cx="388.2" cy="303.3" r="1.1"/>
<circle cx="408.5" cy="313.6" r="1.1"/>
<circle cx="404.8" cy="305.8" r="1.1"/>
<circle cx="386.0" cy="305.2" r="1.1"/>
<circle cx="400.7" cy="299.4" r="1.1"/>
<circle cx="399.4" cy="297.9" r="1.1"/>
<circle cx="396.0" cy="297.8" r="1.1"/>
<circle cx="400.3" cy="291.9" r="1.1"/>
<circle cx="396.7" cy="308.6" r="1.1"/>
<circle cx="396.5" cy="314.7" r="1.1"/>
<circle cx="397.8" cy="304.7" r="1.1"/>
<circle cx="391.2" cy="304.3" r="1.1"/>
<circle cx="397.0" cy="288.3" r="1.1"/>
<circle cx="389.7" cy="299.0" r="1.1"/>
<circle cx="388.4" cy="303.7" r="1.1"/>
<circle cx="396.3" cy="310.7" r="1.1"/>
<circle cx="398.4" cy="308.0" r="1.1"/>
<circle cx="386.1" cy="300.7" r="1.1"/>
<circle cx="404.2" cy="300.3" r="1.1"/>
<circle cx="405.4" cy="300.2" r="1.1"/>
<circle cx="398.2" cy="302.8" r="1.1"/>
<circle cx="394.9" cy="307.4" r="1.1"/>
<circle cx="407.5" cy="301.6" r="1.1"/>
<circle cx="411.1" cy="301.2" r="1.1"/>
<circle cx="390.1" cy="287.5" r="1.1"/>
<circle cx="410.7" cy="304.1" r="1.1"/>
<circle cx="409.0" cy="310.6" r="1.1"/>
<circle cx="409.4" cy="315.9" r="1.1"/>
<circle cx="386.7" cy="294.5" r="1.1"/>
<circle cx="389.2" cy="314.5" r="1.1"/>
<circle cx="408.5" cy="300.6" r="1.1"/>
<circle cx="388.8" cy="302.7" r="1.1"/>
<circle cx="390.5" cy="302.2" r="1.1"/>
<circle cx="393.4" cy="313.1" r="1.1"/>
<circle cx="386.0" cy="305.1" r="1.1"/>
<circle cx="409.5" cy="307.6" r="1.1"/>
<circle cx="402.8" cy="307.1" r="1.1"/>
<circle cx="405.6" cy="299.8" r="1.1"/>
<circle cx="388.0" cy="291.1" r="1.1"/>
<circle cx="394.4" cy="300.7" r="1.1"/>
<circle cx="407.9" cy="292.5" r="1.1"/>
<circle cx="408.1" cy="299.2" r="1.1"/>
<circle cx="387.7" cy="315.0" r="1.1"/>
<circle cx="395.3" cy="302.5" r="1.1"/>
<circle cx="405.9" cy="300.6" r="1.1"/>
<circle cx="400.1" cy="293.8" r="1.1"/>
<circle cx="396.6" cy="314.1" r="1.1"/>
<circle cx="389.6" cy="302.9" r="1.1"/>
<circle cx="406.5" cy="300.3" r="1.1"/>
<circle cx="391.6" cy="287.3" r="1.1"/>
<circle cx="400.3" cy="299.2" r="1.1"/>
<circle cx="385.0" cy="296.7" r="1.1"/>
<circle cx="385.9" cy="310.0" r="1.1"/>
<circle cx="396.3" cy="312.5" r="1.1"/>
<circle cx="398.4" cy="306.6" r="1.1"/>
<circle cx="391.0" cy="300.2" r="1.1"/>
<circle cx="402.1" cy="303.6" r="1.1"/>
<circle cx="394.3" cy="303.1" r="1.1"/>
<circle cx="387.8" cy="299.2" r="1.1"/>
<circle cx="400.3" cy="307.7" r="1.1"/>
<circle cx="400.4" cy="306.4" r="1.1"/>
<circle cx="397.4" cy="314.4" r="1.1"/>
<circle cx="388.5" cy="308.9" r="1.1"/>
<circle cx="388.9" cy="300.5" r="1.1"/>
<circle cx="387.5" cy="291.9" r="1.1"/>
<circle cx="405.5" cy="289.9" r="1.1"/>
<circle cx="395.5" cy="302.9" r="1.1"/>
<circle cx="401.9" cy="304.3" r="1.1"/>
<circle cx="399.7" cy="295.8" r="1.1"/>
<circle cx="396.6" cy="312.9" r="1.1"/>
<circle cx="409.6" cy="302.3" r="1.1"/>
<circle cx="408.7" cy="296.6" r="1.1"/>
<circle cx="386.2" cy="294.5" r="1.1"/>
<circle cx="391.2" cy="301.3" r="1.1"/>
<circle cx="386.5" cy="303.2" r="1.1"/>
<circle cx="399.4" cy="301.7" r="1.1"/>
<circle cx="409.7" cy="306.6" r="1.1"/>
<circle cx="400.9" cy="307.4" r="1.1"/>
<circle cx="398.3" cy="293.2" r="1.1"/>
<circle cx="389.6" cy="290.9" r="1.1"/>
<circle cx="393.1" cy="302.2" r="1.1"/>
<circle cx="408.3" cy="305.5" r="1.1"/>
<circle cx="405.5" cy="302.8" r="1.1"/>
<circle cx="407.1" cy="302.1" r="1.1"/>
<circle cx="404.5" cy="289.3" r="1.1"/>
<circle cx="396.9" cy="306.0" r="1.1"/>
<circle cx="390.9" cy="307.9" r="1.1"/>
<circle cx="386.0" cy="306.8" r="1.1"/>
<circle cx="393.8" cy="303.0" r="1.1"/>
<circle cx="407.1" cy="289.9" r="1.1"/>
<circle cx="403.6" cy="301.9" r="1.1"/>
<circle cx="396.4" cy="313.7" r="1.1"/>
<circle cx="405.7" cy="296.4" r="1.1"/>
<circle cx="401.8" cy="302.0" r="1.1"/>
<circle cx="410.3" cy="306.6" r="1.1"/>
<circle cx="385.4" cy="302.6" r="1.1"/>
<circle cx="404.5" cy="309.2" r="1.1"/>
<circle cx="409.8" cy="302.8" r="1.1"/>
<circle cx="408.1" cy="295.4" r="1.1"/>
<circle cx="393.6" cy="304.3" r="1.1"/>
<circle cx="401.5" cy="298.6" r="1.1"/>
<circle cx="410.7" cy="291.2" r="1.1"/>
<circle cx="397.3" cy="310.0" r="1.1"/>
<circle cx="407.5" cy="291.9" r="1.1"/>
<circle cx="382.6" cy="300.6" r="1.1"/>
<circle cx="381.8" cy="293.0" r="1.1"/>
<circle cx="381.3" cy="300.0" r="1.1"/>
<circle cx="385.5" cy="300.0" r="1.1"/>
<circle cx="380.9" cy="305.3" r="1.1"/>
<circle cx="385.6" cy="302.6" r="1.1"/>
<circle cx="382.1" cy="303.1" r="1.1"/>
<circle cx="380.2" cy="303.3" r="1.1"/>
<circle cx="384.2" cy="294.8" r="1.1"/>
<circle cx="384.4" cy="293.9" r="1.1"/>
<circle cx="380.4" cy="296.4" r="1.1"/>
<circle cx="384.9" cy="298.4" r="1.1"/>
<circle cx="384.9" cy="304.0" r="1.1"/>
<circle cx="385.2" cy="300.4" r="1.1"/>
<circle cx="385.5" cy="305.1" r="1.1"/>
<circle cx="381.2" cy="300.9" r="1.1"/>
<circle cx="380.7" cy="315.3" r="1.1"/>
<circle cx="384.9" cy="304.9" r="1.1"/>
<circle cx="383.8" cy="306.5" r="1.1"/>
<circle cx="381.7" cy="293.2" r="1.1"/>
<circle cx="380.6" cy="311.6" r="1.1"/>
<circle cx="381.2" cy="308.8" r="1.1"/>
<circle cx="381.9" cy="300.7" r="1.1"/>
<circle cx="381.5" cy="302.7" r="1.1"/>
<circle cx="381.7" cy="300.6" r="1.1"/>
<circle cx="381.9" cy="295.4" r="1.1"/>
<circle cx="385.8" cy="288.3" r="1.1"/>
<circle cx="383.7" cy="301.7" r="1.1"/>
<circle cx="380.2" cy="295.6" r="1.1"/>
<circle cx="384.6" cy="305.9" r="1.1"/>
<circle cx="382.1" cy="299.6" r="1.1"/>
<circle cx="381.3" cy="293.7" r="1.1"/>
<circle cx="385.2" cy="312.9" r="1.1"/>
<circle cx="381.0" cy="309.0" r="1.1"/>
<circle cx="380.0" cy="305.5" r="1.1"/>
<circle cx="385.9" cy="313.3" r="1.1"/>
<circle cx="380.0" cy="293.9" r="1.1"/>
<circle cx="384.8" cy="302.5" r="1.1"/>
<circle cx="381.1" cy="295.5" r="1.1"/>
<circle cx="385.0" cy="302.2" r="1.1"/>
<circle cx="381.6" cy="307.4" r="1.1"/>
<circle cx="381.3" cy="300.0" r="1.1"/>
<circle cx="384.2" cy="298.6" r="1.1"/>
<circle cx="383.8" cy="302.0" r="1.1"/>
<circle cx="380.5" cy="304.6" r="1.1"/>
<circle cx="384.7" cy="291.5" r="1.1"/>
<circle cx="383.8" cy="297.6" r="1.1"/>
<circle cx="382.4" cy="307.6" r="1.1"/>
<circle cx="385.3" cy="314.6" r="1.1"/>
<circle cx="380.2" cy="309.6" r="1.1"/>
<circle cx="381.2" cy="300.8" r="1.1"/>
<circle cx="383.0" cy="291.5" r="1.1"/>
<circle cx="381.4" cy="312.0" r="1.1"/>
<circle cx="382.8" cy="290.5" r="1.1"/>
<circle cx="384.5" cy="299.7" r="1.1"/>
<circle cx="383.9" cy="298.4" r="1.1"/>
<circle cx="380.9" cy="307.1" r="1.1"/>
<circle cx="385.1" cy="296.0" r="1.1"/>
<circle cx="381.0" cy="292.2" r="1.1"/>
<circle cx="382.6" cy="303.4" r="1.1"/>
<circle cx="389.2" cy="286.2" r="1.1"/>
<circle cx="408.1" cy="284.7" r="1.1"/>
<circle cx="390.8" cy="285.1" r="1.1"/>
<circle cx="403.6" cy="288.9" r="1.1"/>
<circle cx="389.9" cy="284.1" r="1.1"/>
<circle cx="392.2" cy="285.3" r="1.1"/>
<circle cx="399.1" cy="284.1" r="1.1"/>
<circle cx="394.2" cy="284.3" r="1.1"/>
<circle cx="410.4" cy="288.1" r="1.1"/>
<circle cx="388.5" cy="289.7" r="1.1"/>
<circle cx="388.5" cy="285.7" r="1.1"/>
<circle cx="410.6" cy="288.6" r="1.1"/>
<circle cx="404.3" cy="286.0" r="1.1"/>
<circle cx="390.9" cy="287.5" r="1.1"/>
<circle cx="388.7" cy="284.4" r="1.1"/>
<circle cx="395.7" cy="283.2" r="1.1"/>
<circle cx="396.0" cy="288.5" r="1.1"/>
<circle cx="403.3" cy="286.5" r="1.1"/>
<circle cx="401.8" cy="286.2" r="1.1"/>
<circle cx="389.5" cy="287.2" r="1.1"/>
<circle cx="396.1" cy="288.2" r="1.1"/>
<circle cx="408.7" cy="286.0" r="1.1"/>
<circle cx="400.3" cy="288.2" r="1.1"/>
<circle cx="396.5" cy="284.6" r="1.1"/>
<circle cx="404.1" cy="289.2" r="1.1"/>
<circle cx="405.4" cy="287.9" r="1.1"/>
<circle cx="407.3" cy="287.8" r="1.1"/>
<circle cx="402.0" cy="286.2" r="1.1"/>
<circle cx="393.8" cy="287.4" r="1.1"/>
<circle cx="388.4" cy="285.9" r="1.1"/>
<circle cx="405.6" cy="288.0" r="1.1"/>
<circle cx="401.7" cy="284.8" r="1.1"/>
<circle cx="396.6" cy="286.2" r="1.1"/>
<circle cx="401.5" cy="285.9" r="1.1"/>
<circle cx="402.9" cy="289.5" r="1.1"/>
<circle cx="390.6" cy="287.6" r="1.1"/>
<circle cx="405.5" cy="285.7" r="1.1"/>
<circle cx="398.2" cy="289.8" r="1.1"/>
<circle cx="387.0" cy="286.8" r="1.1"/>
<circle cx="390.0" cy="288.5" r="1.1"/>
<circle cx="383.2" cy="292.9" r="1.1"/>
<circle cx="380.4" cy="300.3" r="1.1"/>
<circle cx="453.3" cy="293.8" r="1.1"/>
<circle cx="367.3" cy="306.5" r="1.1"/>
<circle cx="458.6" cy="301.7" r="1.1"/>
<circle cx="423.9" cy="301.1" r="1.1"/>
<circle cx="432.4" cy="302.7" r="1.1"/>
<circle cx="416.6" cy="301.1" r="1.1"/>
<circle cx="422.2" cy="297.9" r="1.1"/>
<circle cx="382.9" cy="303.0" r="1.1"/>
<circle cx="369.1" cy="303.6" r="1.1"/>
<circle cx="453.4" cy="298.4" r="1.1"/>
<circle cx="369.0" cy="303.5" r="1.1"/>
<circle cx="422.8" cy="294.3" r="1.1"/>
<circle cx="375.6" cy="289.4" r="1.1"/>
<circle cx="429.3" cy="303.5" r="1.1"/>
<circle cx="364.6" cy="298.4" r="1.1"/>
<circle cx="382.9" cy="296.4" r="1.1"/>
<circle cx="439.8" cy="302.8" r="1.1"/>
<circle cx="379.9" cy="298.2" r="1.1"/>
<circle cx="374.7" cy="299.0" r="1.1"/>
<circle cx="358.0" cy="297.6" r="1.1"/>
<circle cx="360.6" cy="303.8" r="1.1"/>
<circle cx="371.0" cy="308.9" r="1.1"/>
<circle cx="456.6" cy="305.5" r="1.1"/>
<circle cx="448.8" cy="312.2" r="1.1"/>
<circle cx="375.1" cy="301.5" r="1.1"/>
<circle cx="359.2" cy="307.1" r="1.1"/>
<circle cx="457.2" cy="302.1" r="1.1"/>
<circle cx="373.0" cy="306.2" r="1.1"/>
<circle cx="434.9" cy="295.2" r="1.1"/>
<circle cx="366.2" cy="290.4" r="1.1"/>
<circle cx="360.4" cy="304.1" r="1.1"/>
<circle cx="377.1" cy="302.3" r="1.1"/>
<circle cx="370.3" cy="312.9" r="1.1"/>
<circle cx="412.3" cy="245.5" r="1.1"/>
<circle cx="419.8" cy="261.7" r="1.1"/>
<circle cx="419.8" cy="265.4" r="1.1"/>
<circle cx="419.8" cy="268.8" r="1.1"/>
<circle cx="410.2" cy="264.2" r="1.1"/>
<circle cx="410.2" cy="266.0" r="1.1"/>
<circle cx="409.4" cy="269.8" r="1.1"/>
<circle cx="405.2" cy="269.4" r="1.1"/>
<circle cx="386.0" cy="268.8" r="1.1"/>
<circle cx="386.3" cy="279.2" r="1.1"/>
<circle cx="396.2" cy="280.2" r="1.1"/>
<circle cx="400.8" cy="278.1" r="1.1"/>
<circle cx="405.2" cy="278.3" r="1.1"/>
<circle cx="409.4" cy="279.2" r="1.1"/>
<circle cx="412.5" cy="278.3" r="1.1"/>
<circle cx="414.0" cy="282.1" r="1.1"/>
<circle cx="420.2" cy="281.5" r="1.1"/>
<circle cx="425.0" cy="283.6" r="1.1"/>
<circle cx="397.3" cy="284.4" r="1.1"/>
<circle cx="400.8" cy="282.1" r="1.1"/>
<circle cx="386.9" cy="286.2" r="1.1"/>
<circle cx="366.9" cy="291.5" r="1.1"/>
<circle cx="368.1" cy="311.2" r="1.1"/>
<circle cx="381.3" cy="314.0" r="1.1"/>
<circle cx="383.1" cy="290.4" r="1.1"/>
<circle cx="386.5" cy="284.6" r="1.1"/>
<circle cx="464.0" cy="293.5" r="1.1"/>
<circle cx="461.9" cy="301.4" r="1.1"/>
<circle cx="458.7" cy="305.7" r="1.1"/>
<circle cx="457.1" cy="299.9" r="1.1"/>
<circle cx="355.4" cy="308.8" r="1.1"/>
<circle cx="412.3" cy="368.7" r="1.1"/>
<circle cx="383.1" cy="358.7" r="1.1"/>
<circle cx="390.9" cy="361.2" r="1.1"/>
<circle cx="383.6" cy="353.4" r="1.1"/>
<circle cx="396.8" cy="356.8" r="1.1"/>
<circle cx="406.2" cy="359.0" r="1.1"/>
<circle cx="399.2" cy="358.2" r="1.1"/>
<circle cx="403.9" cy="366.2" r="1.1"/>
<circle cx="396.8" cy="358.0" r="1.1"/>
<circle cx="402.2" cy="360.9" r="1.1"/>
<circle cx="405.3" cy="360.9" r="1.1"/>
<circle cx="398.3" cy="364.3" r="1.1"/>
<circle cx="390.7" cy="354.4" r="1.1"/>
<circle cx="401.2" cy="359.5" r="1.1"/>
<circle cx="402.4" cy="364.4" r="1.1"/>
<circle cx="400.4" cy="357.6" r="1.1"/>
<circle cx="410.3" cy="356.8" r="1.1"/>
<circle cx="387.2" cy="370.0" r="1.1"/>
<circle cx="394.5" cy="359.5" r="1.1"/>
<circle cx="402.4" cy="366.4" r="1.1"/>
<circle cx="405.5" cy="360.1" r="1.1"/>
<circle cx="398.9" cy="355.3" r="1.1"/>
<circle cx="399.7" cy="359.1" r="1.1"/>
<circle cx="399.3" cy="359.9" r="1.1"/>
<circle cx="404.0" cy="363.5" r="1.1"/>
<circle cx="398.2" cy="359.6" r="1.1"/>
<circle cx="410.7" cy="361.5" r="1.1"/>
<circle cx="405.9" cy="362.6" r="1.1"/>
<circle cx="408.5" cy="365.2" r="1.1"/>
<circle cx="388.2" cy="363.2" r="1.1"/>
<circle cx="410.6" cy="367.1" r="1.1"/>
<circle cx="394.9" cy="368.5" r="1.1"/>
<circle cx="404.9" cy="363.7" r="1.1"/>
<circle cx="392.0" cy="362.6" r="1.1"/>
<circle cx="401.7" cy="350.6" r="1.1"/>
<circle cx="393.5" cy="353.3" r="1.1"/>
<circle cx="382.7" cy="361.5" r="1.1"/>
<circle cx="404.8" cy="360.5" r="1.1"/>
<circle cx="385.2" cy="354.3" r="1.1"/>
<circle cx="404.7" cy="359.6" r="1.1"/>
<circle cx="400.0" cy="359.2" r="1.1"/>
<circle cx="398.8" cy="357.3" r="1.1"/>
<circle cx="392.0" cy="353.8" r="1.1"/>
<circle cx="397.9" cy="360.3" r="1.1"/>
<circle cx="407.0" cy="371.8" r="1.1"/>
<circle cx="399.2" cy="354.7" r="1.1"/>
<circle cx="408.5" cy="362.9" r="1.1"/>
<circle cx="396.3" cy="356.1" r="1.1"/>
<circle cx="401.6" cy="362.1" r="1.1"/>
<circle cx="406.6" cy="367.2" r="1.1"/>
<circle cx="410.7" cy="365.4" r="1.1"/>
<circle cx="388.1" cy="363.4" r="1.1"/>
<circle cx="388.3" cy="357.1" r="1.1"/>
<circle cx="391.2" cy="354.8" r="1.1"/>
<circle cx="390.7" cy="367.7" r="1.1"/>
<circle cx="396.8" cy="368.4" r="1.1"/>
<circle cx="398.7" cy="351.9" r="1.1"/>
<circle cx="392.2" cy="368.5" r="1.1"/>
<circle cx="406.7" cy="359.7" r="1.1"/>
<circle cx="395.7" cy="366.5" r="1.1"/>
<circle cx="401.7" cy="359.5" r="1.1"/>
<circle cx="407.1" cy="360.8" r="1.1"/>
<circle cx="389.3" cy="353.4" r="1.1"/>
<circle cx="380.8" cy="372.0" r="1.1"/>
<circle cx="399.5" cy="368.8" r="1.1"/>
<circle cx="399.2" cy="361.1" r="1.1"/>
<circle cx="399.5" cy="361.8" r="1.1"/>
<circle cx="386.7" cy="360.4" r="1.1"/>
<circle cx="405.9" cy="371.3" r="1.1"/>
<circle cx="394.3" cy="362.6" r="1.1"/>
<circle cx="403.6" cy="367.8" r="1.1"/>
<circle cx="402.0" cy="359.1" r="1.1"/>
<circle cx="412.0" cy="362.1" r="1.1"/>
<circle cx="398.6" cy="353.4" r="1.1"/>
<circle cx="397.6" cy="355.5" r="1.1"/>
<circle cx="410.2" cy="356.2" r="1.1"/>
<circle cx="399.4" cy="362.5" r="1.1"/>
<circle cx="395.2" cy="360.3" r="1.1"/>
<circle cx="394.4" cy="357.4" r="1.1"/>
<circle cx="390.7" cy="361.7" r="1.1"/>
<circle cx="395.2" cy="355.8" r="1.1"/>
<circle cx="394.1" cy="371.0" r="1.1"/>
<circle cx="387.5" cy="358.0" r="1.1"/>
<circle cx="393.2" cy="360.5" r="1.1"/>
<circle cx="404.1" cy="357.2" r="1.1"/>
<circle cx="400.0" cy="362.9" r="1.1"/>
<circle cx="411.2" cy="357.9" r="1.1"/>
<circle cx="391.9" cy="364.0" r="1.1"/>
<circle cx="397.3" cy="357.9" r="1.1"/>
<circle cx="395.4" cy="367.1" r="1.1"/>
<circle cx="384.5" cy="359.6" r="1.1"/>
<circle cx="411.6" cy="362.3" r="1.1"/>
<circle cx="391.3" cy="357.7" r="1.1"/>
<circle cx="406.0" cy="362.8" r="1.1"/>
<circle cx="394.3" cy="357.7" r="1.1"/>
<circle cx="374.0" cy="347.9" r="1.1"/>
<circle cx="351.6" cy="356.8" r="1.1"/>
<circle cx="363.8" cy="358.6" r="1.1"/>
<circle cx="370.6" cy="354.9" r="1.1"/>
<circle cx="371.8" cy="361.9" r="1.1"/>
<circle cx="367.7" cy="363.6" r="1.1"/>
<circle cx="371.3" cy="365.8" r="1.1"/>
<circle cx="352.3" cy="367.9" r="1.1"/>
<circle cx="358.6" cy="367.6" r="1.1"/>
<circle cx="374.0" cy="371.9" r="1.1"/>
<circle cx="389.4" cy="376.5" r="1.1"/>
<circle cx="389.9" cy="378.5" r="1.1"/>
<circle cx="404.8" cy="370.6" r="1.1"/>
<circle cx="403.8" cy="371.7" r="1.1"/>
<circle cx="442.1" cy="368.0" r="1.1"/>
<circle cx="421.0" cy="366.8" r="1.1"/>
<circle cx="416.2" cy="355.0" r="1.1"/>
<circle cx="418.2" cy="357.5" r="1.1"/>
</g>
<g fill="#ad0329">
<circle cx="416.4" cy="298.9" r="1.15"/>
<circle cx="421.1" cy="307.9" r="1.15"/>
<circle cx="422.3" cy="294.8" r="1.15"/>
<circle cx="414.3" cy="304.1" r="1.15"/>
<circle cx="421.6" cy="296.6" r="1.15"/>
<circle cx="417.6" cy="290.8" r="1.15"/>
<circle cx="420.8" cy="299.9" r="1.15"/>
<circle cx="438.5" cy="296.5" r="1.15"/>
<circle cx="421.5" cy="302.3" r="1.15"/>
<circle cx="429.1" cy="313.9" r="1.15"/>
<circle cx="414.8" cy="305.2" r="1.15"/>
<circle cx="424.4" cy="301.0" r="1.15"/>
<circle cx="422.9" cy="294.8" r="1.15"/>
<circle cx="422.4" cy="303.9" r="1.15"/>
<circle cx="415.6" cy="300.9" r="1.15"/>
<circle cx="442.2" cy="301.3" r="1.15"/>
<circle cx="412.7" cy="303.2" r="1.15"/>
<circle cx="413.0" cy="309.5" r="1.15"/>
<circle cx="442.9" cy="295.3" r="1.15"/>
<circle cx="425.3" cy="307.3" r="1.15"/>
<circle cx="443.3" cy="295.9" r="1.15"/>
<circle cx="424.8" cy="295.7" r="1.15"/>
<circle cx="428.0" cy="294.5" r="1.15"/>
<circle cx="424.3" cy="306.0" r="1.15"/>
<circle cx="433.0" cy="291.7" r="1.15"/>
<circle cx="418.1" cy="307.2" r="1.15"/>
<circle cx="417.0" cy="315.6" r="1.15"/>
<circle cx="417.4" cy="312.5" r="1.15"/>
<circle cx="422.7" cy="294.4" r="1.15"/>
<circle cx="431.9" cy="305.6" r="1.15"/>
<circle cx="430.2" cy="303.2" r="1.15"/>
<circle cx="424.1" cy="297.9" r="1.15"/>
<circle cx="417.6" cy="294.1" r="1.15"/>
<circle cx="420.5" cy="305.7" r="1.15"/>
<circle cx="413.4" cy="301.6" r="1.15"/>
<circle cx="413.1" cy="313.1" r="1.15"/>
<circle cx="430.0" cy="289.1" r="1.15"/>
<circle cx="426.7" cy="302.4" r="1.15"/>
<circle cx="412.2" cy="296.2" r="1.15"/>
<circle cx="424.5" cy="295.8" r="1.15"/>
<circle cx="426.7" cy="304.6" r="1.15"/>
<circle cx="428.7" cy="309.7" r="1.15"/>
<circle cx="413.4" cy="307.5" r="1.15"/>
<circle cx="412.9" cy="303.6" r="1.15"/>
<circle cx="414.5" cy="300.1" r="1.15"/>
<circle cx="417.7" cy="302.9" r="1.15"/>
<circle cx="416.8" cy="300.7" r="1.15"/>
<circle cx="435.2" cy="304.8" r="1.15"/>
<circle cx="412.6" cy="315.2" r="1.15"/>
<circle cx="413.2" cy="305.6" r="1.15"/>
<circle cx="415.0" cy="292.2" r="1.15"/>
<circle cx="426.3" cy="294.3" r="1.15"/>
<circle cx="429.6" cy="308.6" r="1.15"/>
<circle cx="415.6" cy="295.8" r="1.15"/>
<circle cx="421.9" cy="301.2" r="1.15"/>
<circle cx="434.6" cy="301.0" r="1.15"/>
<circle cx="414.0" cy="303.6" r="1.15"/>
<circle cx="427.6" cy="292.7" r="1.15"/>
<circle cx="422.8" cy="306.5" r="1.15"/>
<circle cx="412.6" cy="299.2" r="1.15"/>
<circle cx="422.5" cy="297.1" r="1.15"/>
<circle cx="424.8" cy="306.0" r="1.15"/>
<circle cx="425.8" cy="300.0" r="1.15"/>
<circle cx="415.1" cy="299.9" r="1.15"/>
<circle cx="415.6" cy="297.0" r="1.15"/>
<circle cx="424.4" cy="295.5" r="1.15"/>
<circle cx="424.3" cy="307.0" r="1.15"/>
<circle cx="419.6" cy="305.5" r="1.15"/>
<circle cx="430.3" cy="302.8" r="1.15"/>
<circle cx="416.5" cy="314.6" r="1.15"/>
<circle cx="415.2" cy="306.5" r="1.15"/>
<circle cx="423.3" cy="287.9" r="1.15"/>
<circle cx="436.9" cy="308.3" r="1.15"/>
<circle cx="429.1" cy="300.8" r="1.15"/>
<circle cx="426.2" cy="308.8" r="1.15"/>
<circle cx="420.8" cy="299.6" r="1.15"/>
<circle cx="430.1" cy="313.9" r="1.15"/>
<circle cx="427.9" cy="303.4" r="1.15"/>
<circle cx="412.3" cy="302.9" r="1.15"/>
<circle cx="427.1" cy="292.2" r="1.15"/>
<circle cx="425.7" cy="305.1" r="1.15"/>
<circle cx="414.3" cy="310.1" r="1.15"/>
<circle cx="435.1" cy="309.8" r="1.15"/>
<circle cx="425.9" cy="301.4" r="1.15"/>
<circle cx="440.4" cy="307.3" r="1.15"/>
<circle cx="432.7" cy="309.2" r="1.15"/>
<circle cx="418.5" cy="311.4" r="1.15"/>
<circle cx="421.1" cy="304.9" r="1.15"/>
<circle cx="421.0" cy="303.5" r="1.15"/>
<circle cx="446.2" cy="304.5" r="1.15"/>
<circle cx="431.8" cy="300.0" r="1.15"/>
<circle cx="426.5" cy="305.0" r="1.15"/>
<circle cx="422.5" cy="303.6" r="1.15"/>
<circle cx="438.0" cy="300.5" r="1.15"/>
<circle cx="413.0" cy="307.8" r="1.15"/>
<circle cx="435.6" cy="304.5" r="1.15"/>
<circle cx="431.0" cy="315.4" r="1.15"/>
<circle cx="430.2" cy="295.4" r="1.15"/>
<circle cx="413.7" cy="299.6" r="1.15"/>
<circle cx="416.6" cy="305.1" r="1.15"/>
<circle cx="420.3" cy="301.4" r="1.15"/>
<circle cx="425.0" cy="296.8" r="1.15"/>
<circle cx="417.4" cy="299.4" r="1.15"/>
<circle cx="412.3" cy="310.3" r="1.15"/>
<circle cx="416.4" cy="305.9" r="1.15"/>
<circle cx="429.1" cy="294.1" r="1.15"/>
<circle cx="422.6" cy="311.6" r="1.15"/>
<circle cx="421.6" cy="310.7" r="1.15"/>
<circle cx="415.3" cy="303.7" r="1.15"/>
<circle cx="441.4" cy="302.6" r="1.15"/>
<circle cx="430.7" cy="304.3" r="1.15"/>
<circle cx="413.3" cy="316.0" r="1.15"/>
<circle cx="443.8" cy="311.3" r="1.15"/>
<circle cx="414.4" cy="290.3" r="1.15"/>
<circle cx="422.6" cy="302.2" r="1.15"/>
<circle cx="421.2" cy="304.6" r="1.15"/>
<circle cx="414.0" cy="306.2" r="1.15"/>
<circle cx="429.6" cy="306.4" r="1.15"/>
<circle cx="422.8" cy="297.7" r="1.15"/>
<circle cx="442.5" cy="298.4" r="1.15"/>
<circle cx="430.0" cy="307.3" r="1.15"/>
<circle cx="417.5" cy="305.7" r="1.15"/>
<circle cx="422.6" cy="302.1" r="1.15"/>
<circle cx="431.1" cy="299.4" r="1.15"/>
<circle cx="432.9" cy="300.6" r="1.15"/>
<circle cx="424.2" cy="308.4" r="1.15"/>
<circle cx="432.3" cy="308.6" r="1.15"/>
<circle cx="412.0" cy="308.9" r="1.15"/>
<circle cx="414.2" cy="294.2" r="1.15"/>
<circle cx="437.4" cy="314.8" r="1.15"/>
<circle cx="427.5" cy="315.6" r="1.15"/>
<circle cx="419.1" cy="300.9" r="1.15"/>
<circle cx="432.3" cy="305.9" r="1.15"/>
<circle cx="411.9" cy="310.9" r="1.15"/>
<circle cx="431.3" cy="313.5" r="1.15"/>
<circle cx="419.8" cy="300.6" r="1.15"/>
<circle cx="430.5" cy="303.7" r="1.15"/>
<circle cx="418.5" cy="301.0" r="1.15"/>
<circle cx="421.7" cy="309.4" r="1.15"/>
<circle cx="423.5" cy="306.1" r="1.15"/>
<circle cx="421.1" cy="310.2" r="1.15"/>
<circle cx="429.1" cy="314.9" r="1.15"/>
<circle cx="413.3" cy="304.2" r="1.15"/>
<circle cx="415.2" cy="308.1" r="1.15"/>
<circle cx="416.0" cy="316.7" r="1.15"/>
<circle cx="423.5" cy="306.5" r="1.15"/>
<circle cx="416.7" cy="300.4" r="1.15"/>
<circle cx="413.6" cy="316.0" r="1.15"/>
<circle cx="423.9" cy="298.0" r="1.15"/>
<circle cx="423.3" cy="296.3" r="1.15"/>
<circle cx="435.0" cy="293.5" r="1.15"/>
<circle cx="414.4" cy="306.7" r="1.15"/>
<circle cx="419.7" cy="314.2" r="1.15"/>
<circle cx="419.7" cy="299.7" r="1.15"/>
<circle cx="414.2" cy="307.4" r="1.15"/>
<circle cx="420.0" cy="299.9" r="1.15"/>
<circle cx="416.0" cy="301.7" r="1.15"/>
<circle cx="439.8" cy="301.3" r="1.15"/>
<circle cx="419.2" cy="297.2" r="1.15"/>
<circle cx="412.1" cy="306.4" r="1.15"/>
<circle cx="415.6" cy="305.9" r="1.15"/>
<circle cx="412.1" cy="312.0" r="1.15"/>
<circle cx="425.1" cy="305.5" r="1.15"/>
<circle cx="428.0" cy="302.2" r="1.15"/>
<circle cx="422.7" cy="305.6" r="1.15"/>
<circle cx="425.0" cy="302.1" r="1.15"/>
<circle cx="417.5" cy="302.0" r="1.15"/>
<circle cx="419.2" cy="314.3" r="1.15"/>
<circle cx="419.9" cy="298.1" r="1.15"/>
<circle cx="451.5" cy="316.5" r="1.15"/>
<circle cx="414.1" cy="301.4" r="1.15"/>
<circle cx="418.3" cy="303.7" r="1.15"/>
<circle cx="420.9" cy="302.7" r="1.15"/>
<circle cx="441.8" cy="309.8" r="1.15"/>
<circle cx="415.3" cy="312.7" r="1.15"/>
<circle cx="417.5" cy="307.0" r="1.15"/>
<circle cx="414.4" cy="292.2" r="1.15"/>
<circle cx="413.4" cy="306.3" r="1.15"/>
<circle cx="428.9" cy="308.6" r="1.15"/>
<circle cx="423.4" cy="303.7" r="1.15"/>
<circle cx="417.0" cy="313.0" r="1.15"/>
<circle cx="418.6" cy="290.8" r="1.15"/>
<circle cx="420.1" cy="301.1" r="1.15"/>
<circle cx="433.7" cy="308.2" r="1.15"/>
<circle cx="431.5" cy="309.8" r="1.15"/>
<circle cx="437.1" cy="308.0" r="1.15"/>
<circle cx="426.1" cy="315.4" r="1.15"/>
<circle cx="422.9" cy="297.2" r="1.15"/>
<circle cx="444.2" cy="305.0" r="1.15"/>
<circle cx="441.5" cy="305.6" r="1.15"/>
<circle cx="412.4" cy="308.1" r="1.15"/>
<circle cx="418.4" cy="297.5" r="1.15"/>
<circle cx="418.9" cy="309.4" r="1.15"/>
<circle cx="412.6" cy="303.1" r="1.15"/>
<circle cx="427.6" cy="302.5" r="1.15"/>
<circle cx="419.0" cy="303.1" r="1.15"/>
<circle cx="417.5" cy="290.6" r="1.15"/>
<circle cx="420.2" cy="298.8" r="1.15"/>
<circle cx="414.9" cy="296.7" r="1.15"/>
<circle cx="411.4" cy="300.9" r="1.15"/>
<circle cx="437.4" cy="290.7" r="1.15"/>
<circle cx="429.4" cy="303.8" r="1.15"/>
<circle cx="429.7" cy="301.8" r="1.15"/>
<circle cx="450.3" cy="305.9" r="1.15"/>
<circle cx="413.0" cy="308.0" r="1.15"/>
<circle cx="420.5" cy="306.8" r="1.15"/>
<circle cx="412.9" cy="301.9" r="1.15"/>
<circle cx="430.5" cy="309.9" r="1.15"/>
<circle cx="412.4" cy="304.8" r="1.15"/>
<circle cx="427.4" cy="298.0" r="1.15"/>
<circle cx="434.5" cy="301.9" r="1.15"/>
<circle cx="435.6" cy="312.3" r="1.15"/>
<circle cx="412.3" cy="301.4" r="1.15"/>
<circle cx="423.9" cy="309.4" r="1.15"/>
<circle cx="423.5" cy="303.5" r="1.15"/>
<circle cx="422.4" cy="308.6" r="1.15"/>
<circle cx="424.5" cy="310.8" r="1.15"/>
<circle cx="416.8" cy="300.4" r="1.15"/>
<circle cx="433.7" cy="298.2" r="1.15"/>
<circle cx="425.8" cy="315.1" r="1.15"/>
<circle cx="425.2" cy="300.8" r="1.15"/>
<circle cx="436.6" cy="310.1" r="1.15"/>
<circle cx="426.3" cy="302.3" r="1.15"/>
<circle cx="435.6" cy="299.0" r="1.15"/>
<circle cx="417.3" cy="308.0" r="1.15"/>
<circle cx="419.6" cy="310.1" r="1.15"/>
<circle cx="438.3" cy="302.0" r="1.15"/>
<circle cx="434.9" cy="296.6" r="1.15"/>
<circle cx="414.3" cy="301.5" r="1.15"/>
<circle cx="448.9" cy="301.5" r="1.15"/>
<circle cx="421.8" cy="301.3" r="1.15"/>
<circle cx="430.1" cy="308.3" r="1.15"/>
<circle cx="423.6" cy="310.2" r="1.15"/>
<circle cx="425.9" cy="306.7" r="1.15"/>
<circle cx="414.5" cy="303.5" r="1.15"/>
<circle cx="436.8" cy="306.3" r="1.15"/>
<circle cx="446.2" cy="294.7" r="1.15"/>
<circle cx="431.7" cy="314.7" r="1.15"/>
<circle cx="432.1" cy="313.6" r="1.15"/>
<circle cx="416.0" cy="302.4" r="1.15"/>
<circle cx="433.9" cy="302.2" r="1.15"/>
<circle cx="429.9" cy="312.4" r="1.15"/>
<circle cx="421.0" cy="303.5" r="1.15"/>
<circle cx="429.6" cy="310.7" r="1.15"/>
<circle cx="414.4" cy="309.5" r="1.15"/>
<circle cx="416.0" cy="300.6" r="1.15"/>
<circle cx="442.5" cy="293.4" r="1.15"/>
<circle cx="423.2" cy="303.0" r="1.15"/>
<circle cx="429.5" cy="305.4" r="1.15"/>
<circle cx="416.0" cy="306.5" r="1.15"/>
<circle cx="419.9" cy="307.9" r="1.15"/>
<circle cx="421.7" cy="306.8" r="1.15"/>
<circle cx="411.7" cy="306.6" r="1.15"/>
<circle cx="438.9" cy="299.5" r="1.15"/>
<circle cx="426.4" cy="297.5" r="1.15"/>
<circle cx="417.3" cy="299.6" r="1.15"/>
<circle cx="415.5" cy="295.7" r="1.15"/>
<circle cx="431.1" cy="300.6" r="1.15"/>
<circle cx="424.1" cy="304.7" r="1.15"/>
<circle cx="411.9" cy="308.6" r="1.15"/>
<circle cx="426.1" cy="302.9" r="1.15"/>
<circle cx="413.4" cy="302.9" r="1.15"/>
<circle cx="429.3" cy="314.9" r="1.15"/>
<circle cx="412.8" cy="312.7" r="1.15"/>
<circle cx="423.7" cy="303.8" r="1.15"/>
<circle cx="423.9" cy="303.0" r="1.15"/>
<circle cx="412.6" cy="299.3" r="1.15"/>
<circle cx="439.1" cy="309.4" r="1.15"/>
<circle cx="416.4" cy="304.4" r="1.15"/>
<circle cx="423.7" cy="308.5" r="1.15"/>
<circle cx="412.1" cy="300.1" r="1.15"/>
<circle cx="417.3" cy="303.2" r="1.15"/>
<circle cx="420.1" cy="300.0" r="1.15"/>
<circle cx="423.3" cy="299.0" r="1.15"/>
<circle cx="429.9" cy="311.4" r="1.15"/>
<circle cx="433.9" cy="291.8" r="1.15"/>
<circle cx="414.1" cy="303.0" r="1.15"/>
<circle cx="436.7" cy="291.0" r="1.15"/>
<circle cx="415.5" cy="299.4" r="1.15"/>
<circle cx="443.6" cy="313.7" r="1.15"/>
<circle cx="433.2" cy="315.8" r="1.15"/>
<circle cx="412.1" cy="296.2" r="1.15"/>
<circle cx="420.4" cy="312.6" r="1.15"/>
<circle cx="415.9" cy="292.5" r="1.15"/>
<circle cx="424.3" cy="310.4" r="1.15"/>
<circle cx="426.1" cy="297.8" r="1.15"/>
<circle cx="422.7" cy="292.4" r="1.15"/>
<circle cx="417.7" cy="301.6" r="1.15"/>
<circle cx="425.8" cy="296.8" r="1.15"/>
<circle cx="416.4" cy="298.0" r="1.15"/>
<circle cx="435.1" cy="308.5" r="1.15"/>
<circle cx="425.7" cy="299.2" r="1.15"/>
<circle cx="414.7" cy="302.2" r="1.15"/>
<circle cx="419.3" cy="295.0" r="1.15"/>
<circle cx="420.4" cy="312.0" r="1.15"/>
<circle cx="424.3" cy="315.9" r="1.15"/>
<circle cx="431.3" cy="305.6" r="1.15"/>
<circle cx="426.6" cy="304.4" r="1.15"/>
<circle cx="412.6" cy="312.4" r="1.15"/>
<circle cx="417.1" cy="287.3" r="1.15"/>
<circle cx="412.0" cy="304.8" r="1.15"/>
<circle cx="429.9" cy="312.2" r="1.15"/>
<circle cx="411.6" cy="292.6" r="1.15"/>
<circle cx="413.9" cy="298.3" r="1.15"/>
<circle cx="420.4" cy="298.0" r="1.15"/>
<circle cx="419.2" cy="313.7" r="1.15"/>
<circle cx="418.6" cy="300.3" r="1.15"/>
<circle cx="412.5" cy="298.4" r="1.15"/>
<circle cx="422.2" cy="294.8" r="1.15"/>
<circle cx="418.8" cy="290.8" r="1.15"/>
<circle cx="427.5" cy="304.1" r="1.15"/>
<circle cx="446.8" cy="298.6" r="1.15"/>
<circle cx="426.8" cy="305.3" r="1.15"/>
<circle cx="419.8" cy="295.2" r="1.15"/>
<circle cx="449.2" cy="307.5" r="1.15"/>
<circle cx="427.4" cy="315.2" r="1.15"/>
<circle cx="431.8" cy="298.6" r="1.15"/>
<circle cx="437.2" cy="302.6" r="1.15"/>
<circle cx="419.1" cy="305.5" r="1.15"/>
<circle cx="415.9" cy="311.8" r="1.15"/>
<circle cx="421.1" cy="303.4" r="1.15"/>
<circle cx="420.1" cy="312.8" r="1.15"/>
<circle cx="422.6" cy="299.4" r="1.15"/>
<circle cx="432.7" cy="303.1" r="1.15"/>
<circle cx="426.3" cy="305.4" r="1.15"/>
<circle cx="414.4" cy="297.5" r="1.15"/>
<circle cx="411.9" cy="302.9" r="1.15"/>
<circle cx="421.1" cy="316.5" r="1.15"/>
<circle cx="430.5" cy="298.0" r="1.15"/>
<circle cx="417.2" cy="311.5" r="1.15"/>
<circle cx="422.5" cy="301.6" r="1.15"/>
<circle cx="422.6" cy="296.4" r="1.15"/>
<circle cx="431.0" cy="303.3" r="1.15"/>
<circle cx="417.9" cy="305.4" r="1.15"/>
<circle cx="425.4" cy="313.6" r="1.15"/>
<circle cx="416.8" cy="305.6" r="1.15"/>
<circle cx="420.1" cy="311.2" r="1.15"/>
<circle cx="420.6" cy="294.6" r="1.15"/>
<circle cx="413.3" cy="301.1" r="1.15"/>
<circle cx="437.1" cy="304.5" r="1.15"/>
<circle cx="421.9" cy="313.7" r="1.15"/>
<circle cx="416.9" cy="307.0" r="1.15"/>
<circle cx="412.1" cy="306.8" r="1.15"/>
<circle cx="427.7" cy="298.1" r="1.15"/>
<circle cx="420.9" cy="309.9" r="1.15"/>
<circle cx="415.2" cy="305.1" r="1.15"/>
<circle cx="426.7" cy="297.5" r="1.15"/>
<circle cx="427.0" cy="301.6" r="1.15"/>
<circle cx="419.7" cy="299.8" r="1.15"/>
<circle cx="444.8" cy="308.0" r="1.15"/>
<circle cx="419.4" cy="298.5" r="1.15"/>
<circle cx="433.6" cy="295.6" r="1.15"/>
<circle cx="418.1" cy="312.7" r="1.15"/>
<circle cx="428.4" cy="301.4" r="1.15"/>
<circle cx="422.0" cy="301.8" r="1.15"/>
<circle cx="429.8" cy="310.8" r="1.15"/>
<circle cx="413.7" cy="309.6" r="1.15"/>
<circle cx="423.6" cy="297.7" r="1.15"/>
<circle cx="414.4" cy="298.3" r="1.15"/>
<circle cx="417.9" cy="309.5" r="1.15"/>
<circle cx="426.9" cy="301.2" r="1.15"/>
<circle cx="430.0" cy="310.2" r="1.15"/>
<circle cx="423.6" cy="298.0" r="1.15"/>
<circle cx="421.4" cy="306.9" r="1.15"/>
<circle cx="414.5" cy="306.6" r="1.15"/>
<circle cx="423.8" cy="303.6" r="1.15"/>
<circle cx="421.2" cy="302.4" r="1.15"/>
<circle cx="422.2" cy="313.9" r="1.15"/>
<circle cx="416.2" cy="301.2" r="1.15"/>
<circle cx="418.7" cy="302.6" r="1.15"/>
<circle cx="417.8" cy="301.8" r="1.15"/>
<circle cx="439.7" cy="308.9" r="1.15"/>
<circle cx="423.1" cy="310.2" r="1.15"/>
<circle cx="434.6" cy="307.1" r="1.15"/>
<circle cx="423.2" cy="302.3" r="1.15"/>
<circle cx="425.8" cy="308.3" r="1.15"/>
<circle cx="414.0" cy="311.6" r="1.15"/>
<circle cx="416.8" cy="304.6" r="1.15"/>
<circle cx="427.7" cy="311.2" r="1.15"/>
<circle cx="428.6" cy="302.5" r="1.15"/>
<circle cx="443.5" cy="297.6" r="1.15"/>
<circle cx="418.9" cy="303.7" r="1.15"/>
<circle cx="431.9" cy="306.9" r="1.15"/>
<circle cx="441.0" cy="309.7" r="1.15"/>
<circle cx="423.9" cy="298.0" r="1.15"/>
<circle cx="414.5" cy="304.5" r="1.15"/>
<circle cx="426.0" cy="298.4" r="1.15"/>
<circle cx="427.6" cy="300.8" r="1.15"/>
<circle cx="425.2" cy="307.4" r="1.15"/>
<circle cx="416.2" cy="307.3" r="1.15"/>
<circle cx="422.0" cy="301.7" r="1.15"/>
<circle cx="417.5" cy="297.2" r="1.15"/>
<circle cx="416.8" cy="297.5" r="1.15"/>
<circle cx="411.4" cy="309.2" r="1.15"/>
<circle cx="416.6" cy="304.1" r="1.15"/>
<circle cx="419.1" cy="302.3" r="1.15"/>
<circle cx="423.4" cy="290.6" r="1.15"/>
<circle cx="430.1" cy="305.8" r="1.15"/>
<circle cx="442.1" cy="306.0" r="1.15"/>
<circle cx="417.5" cy="303.2" r="1.15"/>
<circle cx="415.0" cy="299.0" r="1.15"/>
<circle cx="431.4" cy="299.1" r="1.15"/>
<circle cx="423.8" cy="297.5" r="1.15"/>
<circle cx="431.0" cy="303.6" r="1.15"/>
<circle cx="440.4" cy="297.4" r="1.15"/>
<circle cx="428.3" cy="305.0" r="1.15"/>
<circle cx="418.1" cy="313.5" r="1.15"/>
<circle cx="424.1" cy="303.0" r="1.15"/>
<circle cx="415.6" cy="307.6" r="1.15"/>
<circle cx="413.6" cy="305.5" r="1.15"/>
<circle cx="423.5" cy="302.0" r="1.15"/>
<circle cx="414.3" cy="299.7" r="1.15"/>
<circle cx="431.2" cy="309.4" r="1.15"/>
<circle cx="437.3" cy="293.2" r="1.15"/>
<circle cx="421.6" cy="303.3" r="1.15"/>
<circle cx="427.4" cy="300.8" r="1.15"/>
<circle cx="424.1" cy="303.6" r="1.15"/>
<circle cx="413.4" cy="297.7" r="1.15"/>
<circle cx="439.8" cy="307.3" r="1.15"/>
<circle cx="415.0" cy="302.1" r="1.15"/>
<circle cx="411.7" cy="307.0" r="1.15"/>
<circle cx="414.1" cy="298.7" r="1.15"/>
<circle cx="432.8" cy="297.4" r="1.15"/>
<circle cx="431.2" cy="309.2" r="1.15"/>
<circle cx="430.9" cy="310.9" r="1.15"/>
<circle cx="417.2" cy="298.4" r="1.15"/>
<circle cx="442.0" cy="312.8" r="1.15"/>
<circle cx="442.1" cy="311.1" r="1.15"/>
<circle cx="420.2" cy="292.5" r="1.15"/>
<circle cx="421.6" cy="294.6" r="1.15"/>
<circle cx="447.8" cy="311.5" r="1.15"/>
<circle cx="447.1" cy="305.4" r="1.15"/>
<circle cx="449.3" cy="305.1" r="1.15"/>
<circle cx="455.8" cy="300.5" r="1.15"/>
<circle cx="437.1" cy="298.6" r="1.15"/>
<circle cx="442.8" cy="290.7" r="1.15"/>
<circle cx="450.2" cy="311.1" r="1.15"/>
<circle cx="450.1" cy="300.2" r="1.15"/>
<circle cx="442.5" cy="307.7" r="1.15"/>
<circle cx="446.7" cy="304.2" r="1.15"/>
<circle cx="441.2" cy="300.7" r="1.15"/>
<circle cx="454.4" cy="305.3" r="1.15"/>
<circle cx="453.4" cy="302.4" r="1.15"/>
<circle cx="449.4" cy="306.8" r="1.15"/>
<circle cx="447.6" cy="307.6" r="1.15"/>
<circle cx="443.8" cy="299.6" r="1.15"/>
<circle cx="459.0" cy="307.3" r="1.15"/>
<circle cx="444.7" cy="308.5" r="1.15"/>
<circle cx="457.2" cy="291.5" r="1.15"/>
<circle cx="440.4" cy="298.7" r="1.15"/>
<circle cx="453.3" cy="296.1" r="1.15"/>
<circle cx="455.9" cy="297.8" r="1.15"/>
<circle cx="457.6" cy="306.0" r="1.15"/>
<circle cx="445.4" cy="305.5" r="1.15"/>
<circle cx="441.4" cy="306.9" r="1.15"/>
<circle cx="441.1" cy="304.0" r="1.15"/>
<circle cx="454.2" cy="299.0" r="1.15"/>
<circle cx="444.4" cy="303.0" r="1.15"/>
<circle cx="448.2" cy="299.4" r="1.15"/>
<circle cx="437.9" cy="305.0" r="1.15"/>
<circle cx="436.3" cy="312.8" r="1.15"/>
<circle cx="438.2" cy="301.5" r="1.15"/>
<circle cx="454.6" cy="310.3" r="1.15"/>
<circle cx="438.8" cy="301.0" r="1.15"/>
<circle cx="448.7" cy="298.1" r="1.15"/>
<circle cx="450.1" cy="303.7" r="1.15"/>
<circle cx="436.2" cy="310.2" r="1.15"/>
<circle cx="452.3" cy="297.5" r="1.15"/>
<circle cx="460.3" cy="299.2" r="1.15"/>
<circle cx="442.4" cy="298.0" r="1.15"/>
<circle cx="439.6" cy="313.0" r="1.15"/>
<circle cx="457.8" cy="303.9" r="1.15"/>
<circle cx="443.7" cy="305.6" r="1.15"/>
<circle cx="458.0" cy="310.5" r="1.15"/>
<circle cx="460.1" cy="307.6" r="1.15"/>
<circle cx="465.0" cy="290.9" r="1.15"/>
<circle cx="464.7" cy="292.5" r="1.15"/>
<circle cx="467.9" cy="293.0" r="1.15"/>
<circle cx="486.2" cy="293.5" r="1.15"/>
<circle cx="502.6" cy="294.2" r="1.15"/>
<circle cx="465.0" cy="297.7" r="1.15"/>
<circle cx="466.4" cy="299.1" r="1.15"/>
<circle cx="472.8" cy="297.7" r="1.15"/>
<circle cx="473.2" cy="299.3" r="1.15"/>
<circle cx="482.7" cy="298.5" r="1.15"/>
<circle cx="475.3" cy="301.7" r="1.15"/>
<circle cx="469.0" cy="302.3" r="1.15"/>
<circle cx="469.3" cy="304.1" r="1.15"/>
<circle cx="464.7" cy="303.3" r="1.15"/>
<circle cx="480.6" cy="303.6" r="1.15"/>
<circle cx="482.7" cy="302.7" r="1.15"/>
<circle cx="488.3" cy="301.4" r="1.15"/>
<circle cx="497.8" cy="300.2" r="1.15"/>
<circle cx="497.8" cy="302.0" r="1.15"/>
<circle cx="476.2" cy="306.2" r="1.15"/>
<circle cx="477.4" cy="307.3" r="1.15"/>
<circle cx="480.9" cy="306.5" r="1.15"/>
<circle cx="489.7" cy="305.9" r="1.15"/>
<circle cx="471.7" cy="308.6" r="1.15"/>
<circle cx="474.9" cy="309.7" r="1.15"/>
<circle cx="482.7" cy="309.4" r="1.15"/>
<circle cx="491.2" cy="309.9" r="1.15"/>
<circle cx="500.5" cy="310.1" r="1.15"/>
<circle cx="465.0" cy="311.8" r="1.15"/>
<circle cx="467.2" cy="310.1" r="1.15"/>
<circle cx="382.1" cy="313.2" r="1.15"/>
<circle cx="380.3" cy="300.4" r="1.15"/>
<circle cx="382.0" cy="306.5" r="1.15"/>
<circle cx="371.9" cy="296.5" r="1.15"/>
<circle cx="372.9" cy="309.0" r="1.15"/>
<circle cx="382.1" cy="302.6" r="1.15"/>
<circle cx="376.8" cy="304.5" r="1.15"/>
<circle cx="378.1" cy="307.1" r="1.15"/>
<circle cx="383.6" cy="292.6" r="1.15"/>
<circle cx="384.4" cy="294.3" r="1.15"/>
<circle cx="368.6" cy="302.8" r="1.15"/>
<circle cx="371.5" cy="300.0" r="1.15"/>
<circle cx="379.3" cy="301.1" r="1.15"/>
<circle cx="368.8" cy="309.0" r="1.15"/>
<circle cx="367.3" cy="309.8" r="1.15"/>
<circle cx="369.3" cy="304.4" r="1.15"/>
<circle cx="380.0" cy="315.9" r="1.15"/>
<circle cx="382.6" cy="302.7" r="1.15"/>
<circle cx="381.2" cy="297.4" r="1.15"/>
<circle cx="378.7" cy="305.1" r="1.15"/>
<circle cx="375.8" cy="296.9" r="1.15"/>
<circle cx="374.3" cy="305.5" r="1.15"/>
<circle cx="378.8" cy="309.5" r="1.15"/>
<circle cx="368.8" cy="289.0" r="1.15"/>
<circle cx="371.4" cy="294.1" r="1.15"/>
<circle cx="372.5" cy="305.7" r="1.15"/>
<circle cx="369.4" cy="307.8" r="1.15"/>
<circle cx="374.7" cy="305.7" r="1.15"/>
<circle cx="384.9" cy="314.3" r="1.15"/>
<circle cx="385.0" cy="294.9" r="1.15"/>
<circle cx="384.7" cy="293.2" r="1.15"/>
<circle cx="366.7" cy="293.8" r="1.15"/>
<circle cx="379.0" cy="298.0" r="1.15"/>
<circle cx="376.9" cy="298.8" r="1.15"/>
<circle cx="384.6" cy="292.5" r="1.15"/>
<circle cx="371.5" cy="303.7" r="1.15"/>
<circle cx="372.4" cy="303.7" r="1.15"/>
<circle cx="369.3" cy="301.4" r="1.15"/>
<circle cx="379.1" cy="299.7" r="1.15"/>
<circle cx="378.7" cy="303.5" r="1.15"/>
<circle cx="372.9" cy="296.2" r="1.15"/>
<circle cx="376.1" cy="299.0" r="1.15"/>
<circle cx="376.8" cy="299.8" r="1.15"/>
<circle cx="369.1" cy="304.6" r="1.15"/>
<circle cx="383.3" cy="299.2" r="1.15"/>
<circle cx="382.7" cy="301.5" r="1.15"/>
<circle cx="370.6" cy="309.6" r="1.15"/>
<circle cx="370.5" cy="307.3" r="1.15"/>
<circle cx="375.3" cy="297.8" r="1.15"/>
<circle cx="377.0" cy="300.8" r="1.15"/>
<circle cx="367.8" cy="293.2" r="1.15"/>
<circle cx="367.1" cy="301.7" r="1.15"/>
<circle cx="373.7" cy="309.2" r="1.15"/>
<circle cx="382.8" cy="305.9" r="1.15"/>
<circle cx="376.5" cy="299.9" r="1.15"/>
<circle cx="367.8" cy="291.0" r="1.15"/>
<circle cx="385.3" cy="301.9" r="1.15"/>
<circle cx="382.1" cy="299.3" r="1.15"/>
<circle cx="373.3" cy="310.9" r="1.15"/>
<circle cx="376.8" cy="303.1" r="1.15"/>
<circle cx="381.0" cy="298.7" r="1.15"/>
<circle cx="366.7" cy="303.1" r="1.15"/>
<circle cx="365.8" cy="309.2" r="1.15"/>
<circle cx="377.4" cy="303.9" r="1.15"/>
<circle cx="379.6" cy="308.3" r="1.15"/>
<circle cx="374.0" cy="310.0" r="1.15"/>
<circle cx="382.9" cy="296.2" r="1.15"/>
<circle cx="376.8" cy="314.8" r="1.15"/>
<circle cx="368.9" cy="295.5" r="1.15"/>
<circle cx="380.4" cy="296.0" r="1.15"/>
<circle cx="379.1" cy="312.5" r="1.15"/>
<circle cx="382.0" cy="307.4" r="1.15"/>
<circle cx="380.2" cy="307.2" r="1.15"/>
<circle cx="384.5" cy="302.1" r="1.15"/>
<circle cx="377.6" cy="300.4" r="1.15"/>
<circle cx="367.5" cy="290.5" r="1.15"/>
<circle cx="367.8" cy="298.7" r="1.15"/>
<circle cx="384.0" cy="300.1" r="1.15"/>
<circle cx="369.4" cy="297.7" r="1.15"/>
<circle cx="374.4" cy="307.4" r="1.15"/>
<circle cx="367.8" cy="294.6" r="1.15"/>
<circle cx="365.9" cy="312.2" r="1.15"/>
<circle cx="369.2" cy="310.5" r="1.15"/>
<circle cx="376.6" cy="299.8" r="1.15"/>
<circle cx="373.1" cy="312.8" r="1.15"/>
<circle cx="368.4" cy="308.7" r="1.15"/>
<circle cx="379.3" cy="296.4" r="1.15"/>
<circle cx="381.7" cy="303.6" r="1.15"/>
<circle cx="372.3" cy="302.1" r="1.15"/>
<circle cx="368.5" cy="302.3" r="1.15"/>
<circle cx="381.5" cy="306.8" r="1.15"/>
<circle cx="381.9" cy="303.5" r="1.15"/>
<circle cx="379.1" cy="296.3" r="1.15"/>
<circle cx="368.7" cy="307.5" r="1.15"/>
<circle cx="382.4" cy="291.4" r="1.15"/>
<circle cx="377.7" cy="311.3" r="1.15"/>
<circle cx="367.0" cy="300.2" r="1.15"/>
<circle cx="383.4" cy="306.8" r="1.15"/>
<circle cx="377.3" cy="306.6" r="1.15"/>
<circle cx="372.7" cy="303.7" r="1.15"/>
<circle cx="374.9" cy="296.4" r="1.15"/>
<circle cx="372.6" cy="299.3" r="1.15"/>
<circle cx="365.6" cy="297.0" r="1.15"/>
<circle cx="365.9" cy="299.5" r="1.15"/>
<circle cx="374.7" cy="304.6" r="1.15"/>
<circle cx="368.4" cy="302.3" r="1.15"/>
<circle cx="378.9" cy="301.7" r="1.15"/>
<circle cx="375.5" cy="308.0" r="1.15"/>
<circle cx="370.7" cy="294.7" r="1.15"/>
<circle cx="384.6" cy="298.9" r="1.15"/>
<circle cx="385.3" cy="311.3" r="1.15"/>
<circle cx="380.9" cy="304.4" r="1.15"/>
<circle cx="382.9" cy="304.0" r="1.15"/>
<circle cx="378.2" cy="292.7" r="1.15"/>
<circle cx="372.8" cy="300.0" r="1.15"/>
<circle cx="336.3" cy="299.6" r="1.15"/>
<circle cx="337.5" cy="301.0" r="1.15"/>
<circle cx="336.0" cy="304.8" r="1.15"/>
<circle cx="341.3" cy="295.9" r="1.15"/>
<circle cx="344.8" cy="299.0" r="1.15"/>
<circle cx="347.1" cy="296.7" r="1.15"/>
<circle cx="351.9" cy="295.0" r="1.15"/>
<circle cx="353.1" cy="297.1" r="1.15"/>
<circle cx="353.7" cy="297.9" r="1.15"/>
<circle cx="354.8" cy="301.9" r="1.15"/>
<circle cx="351.3" cy="306.0" r="1.15"/>
<circle cx="352.5" cy="306.5" r="1.15"/>
<circle cx="354.2" cy="304.8" r="1.15"/>
<circle cx="357.7" cy="304.2" r="1.15"/>
<circle cx="357.7" cy="311.4" r="1.15"/>
<circle cx="354.2" cy="314.0" r="1.15"/>
<circle cx="356.0" cy="314.0" r="1.15"/>
<circle cx="359.4" cy="296.7" r="1.15"/>
<circle cx="362.3" cy="296.2" r="1.15"/>
<circle cx="361.7" cy="299.6" r="1.15"/>
<circle cx="362.9" cy="303.1" r="1.15"/>
<circle cx="364.6" cy="306.5" r="1.15"/>
<circle cx="296.8" cy="274.6" r="1.15"/>
<circle cx="297.1" cy="289.2" r="1.15"/>
<circle cx="309.8" cy="294.9" r="1.15"/>
<circle cx="309.8" cy="296.2" r="1.15"/>
<circle cx="309.8" cy="299.2" r="1.15"/>
<circle cx="320.9" cy="297.4" r="1.15"/>
<circle cx="284.5" cy="301.2" r="1.15"/>
<circle cx="319.4" cy="303.1" r="1.15"/>
<circle cx="284.5" cy="310.8" r="1.15"/>
<circle cx="309.8" cy="308.5" r="1.15"/>
<circle cx="302.6" cy="311.8" r="1.15"/>
<circle cx="336.0" cy="300.0" r="1.15"/>
<circle cx="336.0" cy="305.0" r="1.15"/>
<circle cx="269.5" cy="353.5" r="1.15"/>
<circle cx="269.5" cy="355.4" r="1.15"/>
<circle cx="269.5" cy="361.2" r="1.15"/>
<circle cx="270.6" cy="372.3" r="1.15"/>
<circle cx="281.4" cy="362.8" r="1.15"/>
<circle cx="300.2" cy="360.0" r="1.15"/>
<circle cx="308.6" cy="361.5" r="1.15"/>
<circle cx="313.2" cy="352.6" r="1.15"/>
<circle cx="316.3" cy="354.6" r="1.15"/>
<circle cx="314.8" cy="358.9" r="1.15"/>
<circle cx="317.2" cy="358.9" r="1.15"/>
<circle cx="313.2" cy="363.1" r="1.15"/>
<circle cx="325.2" cy="356.2" r="1.15"/>
<circle cx="329.1" cy="355.7" r="1.15"/>
<circle cx="332.6" cy="355.7" r="1.15"/>
<circle cx="328.0" cy="358.2" r="1.15"/>
<circle cx="328.3" cy="368.0" r="1.15"/>
<circle cx="332.7" cy="355.7" r="1.15"/>
<circle cx="339.1" cy="352.8" r="1.15"/>
<circle cx="339.1" cy="356.8" r="1.15"/>
<circle cx="338.0" cy="361.3" r="1.15"/>
<circle cx="337.9" cy="367.7" r="1.15"/>
<circle cx="340.9" cy="366.7" r="1.15"/>
<circle cx="345.4" cy="361.3" r="1.15"/>
<circle cx="351.9" cy="364.3" r="1.15"/>
<circle cx="349.7" cy="369.1" r="1.15"/>
<circle cx="355.8" cy="354.4" r="1.15"/>
<circle cx="358.5" cy="361.9" r="1.15"/>
<circle cx="366.7" cy="356.3" r="1.15"/>
<circle cx="371.3" cy="357.5" r="1.15"/>
<circle cx="371.2" cy="358.5" r="1.15"/>
<circle cx="373.8" cy="365.2" r="1.15"/>
<circle cx="376.3" cy="367.4" r="1.15"/>
<circle cx="378.1" cy="354.9" r="1.15"/>
<circle cx="379.0" cy="357.8" r="1.15"/>
<circle cx="379.0" cy="365.2" r="1.15"/>
<circle cx="363.4" cy="376.8" r="1.15"/>
<circle cx="377.9" cy="354.9" r="1.15"/>
<circle cx="379.0" cy="357.8" r="1.15"/>
<circle cx="382.9" cy="354.9" r="1.15"/>
<circle cx="384.8" cy="361.0" r="1.15"/>
<circle cx="378.8" cy="365.2" r="1.15"/>
<circle cx="376.2" cy="367.4" r="1.15"/>
<circle cx="412.3" cy="362.9" r="1.15"/>
<circle cx="421.6" cy="354.6" r="1.15"/>
<circle cx="420.2" cy="358.1" r="1.15"/>
<circle cx="420.0" cy="361.0" r="1.15"/>
<circle cx="421.2" cy="363.1" r="1.15"/>
<circle cx="424.0" cy="358.8" r="1.15"/>
<circle cx="424.0" cy="364.0" r="1.15"/>
<circle cx="418.8" cy="371.0" r="1.15"/>
<circle cx="424.0" cy="376.5" r="1.15"/>
<circle cx="429.4" cy="350.0" r="1.15"/>
<circle cx="421.9" cy="354.8" r="1.15"/>
<circle cx="431.2" cy="356.7" r="1.15"/>
<circle cx="420.8" cy="357.9" r="1.15"/>
<circle cx="424.0" cy="358.5" r="1.15"/>
<circle cx="426.0" cy="360.2" r="1.15"/>
<circle cx="419.6" cy="360.8" r="1.15"/>
<circle cx="421.0" cy="363.3" r="1.15"/>
<circle cx="424.0" cy="364.2" r="1.15"/>
<circle cx="418.7" cy="370.9" r="1.15"/>
<circle cx="424.5" cy="376.9" r="1.15"/>
<circle cx="466.3" cy="355.2" r="1.15"/>
</g>
<line x1="258.00" y1="330.30" x2="505.80" y2="330.30" stroke="#111" stroke-width="1.5"/>
<line x1="399.25" y1="263.10" x2="399.25" y2="396.40" stroke="#111" stroke-width="1.6"/>
<line x1="396.10" y1="266.66" x2="399.25" y2="266.66" stroke="#231f20" stroke-width="1.0"/>
<text x="393.00" y="269.86" font-size="9.4" text-anchor="end">6</text>
<line x1="396.10" y1="287.84" x2="399.25" y2="287.84" stroke="#231f20" stroke-width="1.0"/>
<text x="393.00" y="291.04" font-size="9.4" text-anchor="end">4</text>
<line x1="396.10" y1="309.02" x2="399.25" y2="309.02" stroke="#231f20" stroke-width="1.0"/>
<text x="393.00" y="312.22" font-size="9.4" text-anchor="end">2</text>
<line x1="396.10" y1="351.38" x2="399.25" y2="351.38" stroke="#231f20" stroke-width="1.0"/>
<text x="393.00" y="354.58" font-size="9.4" text-anchor="end">−2</text>
<line x1="396.10" y1="372.56" x2="399.25" y2="372.56" stroke="#231f20" stroke-width="1.0"/>
<text x="393.00" y="375.76" font-size="9.4" text-anchor="end">−4</text>
<line x1="396.10" y1="393.74" x2="399.25" y2="393.74" stroke="#231f20" stroke-width="1.0"/>
<text x="393.00" y="396.94" font-size="9.4" text-anchor="end">−6</text>
<line x1="261.36" y1="330.30" x2="261.36" y2="333.80" stroke="#231f20" stroke-width="1.0"/>
<text x="261.36" y="344.20" font-size="9.4" text-anchor="middle">−8</text>
<line x1="295.82" y1="330.30" x2="295.82" y2="333.80" stroke="#231f20" stroke-width="1.0"/>
<text x="295.82" y="344.20" font-size="9.4" text-anchor="middle">−6</text>
<line x1="330.28" y1="330.30" x2="330.28" y2="333.80" stroke="#231f20" stroke-width="1.0"/>
<text x="330.28" y="344.20" font-size="9.4" text-anchor="middle">−4</text>
<line x1="364.74" y1="330.30" x2="364.74" y2="333.80" stroke="#231f20" stroke-width="1.0"/>
<text x="364.74" y="344.20" font-size="9.4" text-anchor="middle">−2</text>
<line x1="433.66" y1="330.30" x2="433.66" y2="333.80" stroke="#231f20" stroke-width="1.0"/>
<text x="433.66" y="344.20" font-size="9.4" text-anchor="middle">2</text>
<line x1="468.12" y1="330.30" x2="468.12" y2="333.80" stroke="#231f20" stroke-width="1.0"/>
<text x="468.12" y="344.20" font-size="9.4" text-anchor="middle">4</text>
<line x1="502.58" y1="330.30" x2="502.58" y2="333.80" stroke="#231f20" stroke-width="1.0"/>
<text x="502.58" y="344.20" font-size="9.4" text-anchor="middle">6</text>
<text x="390.25" y="339.70" font-size="9.4" text-anchor="middle">0</text>
<text x="266.00" y="269.70" font-size="8.7" textLength="11.00" lengthAdjust="spacingAndGlyphs">Q1</text>
<text x="492.00" y="269.80" font-size="8.7" textLength="11.50" lengthAdjust="spacingAndGlyphs">Q2</text>
<text x="266.20" y="394.70" font-size="8.7" textLength="11.70" lengthAdjust="spacingAndGlyphs">Q3</text>
<text x="492.10" y="394.50" font-size="8.7" textLength="11.50" lengthAdjust="spacingAndGlyphs">Q4</text>
<text x="370.50" y="257.90" font-size="8.4" textLength="17.50" lengthAdjust="spacingAndGlyphs">AML</text>
<text x="388.30" y="254.60" font-size="7.4" textLength="6.60" lengthAdjust="spacingAndGlyphs">all</text>
<text x="397.70" y="257.90" font-size="8.4" textLength="30.00" lengthAdjust="spacingAndGlyphs">vs NBM</text>
<text x="260.80" y="325.10" font-size="9.7" textLength="90.00" lengthAdjust="spacingAndGlyphs">Expression fold change</text>
<text x="388.90" y="407.40" font-size="8.7" textLength="21.20" lengthAdjust="spacingAndGlyphs">DCBs</text>
<text x="411.00" y="394.50" font-size="8.4" textLength="39.60" lengthAdjust="spacingAndGlyphs">Q2 vs Q1:</text>
<text x="453.00" y="394.50" font-size="8.4" textLength="5.40" lengthAdjust="spacingAndGlyphs" font-style="italic">P</text>
<text x="458.20" y="394.50" font-size="8.4" textLength="25.60" lengthAdjust="spacingAndGlyphs">&lt;0.001</text>
<text x="7.80" y="436.50" font-size="12.0" font-weight="bold" fill="#000">D</text>
<rect x="56.20" y="445.00" width="19.60" height="1.00" fill="#4a1f5d"/>
<rect x="56.20" y="446.00" width="19.60" height="18.80" fill="#603a73"/>
<rect x="56.20" y="464.80" width="19.60" height="15.10" fill="#7f6191"/>
<rect x="56.20" y="479.90" width="19.60" height="4.80" fill="#a28db2"/>
<rect x="56.20" y="484.70" width="19.60" height="4.70" fill="#d0c5d9"/>
<rect x="56.20" y="540.20" width="19.60" height="7.80" fill="#a8b9ab"/>
<rect x="56.20" y="548.00" width="19.60" height="3.00" fill="#6e8f7a"/>
<rect x="56.20" y="551.00" width="19.60" height="38.40" fill="#37644e"/>
<rect x="78.60" y="444.90" width="19.60" height="1.00" fill="#4a1f5d"/>
<rect x="78.60" y="445.90" width="19.60" height="25.70" fill="#603a73"/>
<rect x="78.60" y="471.60" width="19.60" height="11.30" fill="#7f6191"/>
<rect x="78.60" y="482.90" width="19.60" height="8.10" fill="#a28db2"/>
<rect x="78.60" y="491.00" width="19.60" height="8.50" fill="#d0c5d9"/>
<rect x="78.60" y="556.10" width="19.60" height="5.10" fill="#a8b9ab"/>
<rect x="78.60" y="561.20" width="19.60" height="28.20" fill="#37644e"/>
<rect x="100.90" y="445.00" width="19.60" height="1.00" fill="#4a1f5d"/>
<rect x="100.90" y="446.00" width="19.60" height="45.50" fill="#603a73"/>
<rect x="100.90" y="491.50" width="19.60" height="14.10" fill="#7f6191"/>
<rect x="100.90" y="505.60" width="19.60" height="7.40" fill="#a28db2"/>
<rect x="100.90" y="513.00" width="19.60" height="4.00" fill="#d0c5d9"/>
<rect x="100.90" y="564.00" width="19.60" height="3.50" fill="#a8b9ab"/>
<rect x="100.90" y="567.50" width="19.60" height="21.90" fill="#37644e"/>
<rect x="123.10" y="445.00" width="19.60" height="1.00" fill="#4a1f5d"/>
<rect x="123.10" y="446.00" width="19.60" height="9.40" fill="#603a73"/>
<rect x="123.10" y="456.20" width="19.60" height="10.50" fill="#d0c5d9"/>
<rect x="123.10" y="523.00" width="19.60" height="66.40" fill="#37644e"/>
<line x1="52.80" y1="441.60" x2="52.80" y2="590.10" stroke="#111" stroke-width="1.5"/>
<line x1="52.10" y1="589.40" x2="145.90" y2="589.40" stroke="#111" stroke-width="1.5"/>
<line x1="50.00" y1="443.56" x2="52.90" y2="443.56" stroke="#231f20" stroke-width="1.0"/>
<text x="45.90" y="446.56" font-size="8.4" text-anchor="end">100</text>
<line x1="50.00" y1="480.02" x2="52.90" y2="480.02" stroke="#231f20" stroke-width="1.0"/>
<text x="45.90" y="483.02" font-size="8.4" text-anchor="end">75</text>
<line x1="50.00" y1="516.48" x2="52.90" y2="516.48" stroke="#231f20" stroke-width="1.0"/>
<text x="45.90" y="519.48" font-size="8.4" text-anchor="end">50</text>
<line x1="50.00" y1="552.94" x2="52.90" y2="552.94" stroke="#231f20" stroke-width="1.0"/>
<text x="45.90" y="555.94" font-size="8.4" text-anchor="end">25</text>
<line x1="50.00" y1="589.40" x2="52.90" y2="589.40" stroke="#231f20" stroke-width="1.0"/>
<text x="45.90" y="592.40" font-size="8.4" text-anchor="end">0</text>
<line x1="66.00" y1="589.40" x2="66.00" y2="592.40" stroke="#231f20" stroke-width="1.0"/>
<text x="66.00" y="603.00" font-size="8.4" text-anchor="middle" textLength="11.60" lengthAdjust="spacingAndGlyphs">Q1</text>
<line x1="88.35" y1="589.40" x2="88.35" y2="592.40" stroke="#231f20" stroke-width="1.0"/>
<text x="88.35" y="603.00" font-size="8.4" text-anchor="middle" textLength="11.60" lengthAdjust="spacingAndGlyphs">Q2</text>
<line x1="110.70" y1="589.40" x2="110.70" y2="592.40" stroke="#231f20" stroke-width="1.0"/>
<text x="110.70" y="603.00" font-size="8.4" text-anchor="middle" textLength="11.60" lengthAdjust="spacingAndGlyphs">Q3</text>
<line x1="133.05" y1="589.40" x2="133.05" y2="592.40" stroke="#231f20" stroke-width="1.0"/>
<text x="133.05" y="603.00" font-size="8.4" text-anchor="middle" textLength="11.60" lengthAdjust="spacingAndGlyphs">Q4</text>
<text x="26.40" y="515.60" font-size="10.9" text-anchor="middle" textLength="38.40" lengthAdjust="spacingAndGlyphs" transform="rotate(-90 26.40 515.60)">% features</text>
<text x="149.60" y="448.50" font-size="8.2" textLength="31.20" lengthAdjust="spacingAndGlyphs">Features</text>
<rect x="149.50" y="455.35" width="4.80" height="4.75" fill="#4a1f5d"/>
<text x="157.70" y="460.10" font-size="8.2" textLength="23.80" lengthAdjust="spacingAndGlyphs">5′ UTR</text>
<rect x="149.50" y="467.38" width="4.80" height="4.75" fill="#603a73"/>
<text x="157.70" y="472.13" font-size="8.2" textLength="65.60" lengthAdjust="spacingAndGlyphs">Promoter (&lt;=1kb)</text>
<rect x="149.50" y="479.41" width="4.80" height="4.75" fill="#7f6191"/>
<text x="157.70" y="484.16" font-size="8.2" textLength="61.60" lengthAdjust="spacingAndGlyphs">Promoter (1-2kb)</text>
<rect x="149.50" y="491.44" width="4.80" height="4.75" fill="#a28db2"/>
<text x="157.70" y="496.19" font-size="8.2" textLength="61.60" lengthAdjust="spacingAndGlyphs">Promoter (2-3kb)</text>
<rect x="149.50" y="503.47" width="4.80" height="4.75" fill="#d0c5d9"/>
<text x="157.70" y="508.22" font-size="8.2" textLength="17.90" lengthAdjust="spacingAndGlyphs">Exon</text>
<text x="157.70" y="520.25" font-size="8.2" textLength="21.80" lengthAdjust="spacingAndGlyphs">Intron</text>
<rect x="149.50" y="527.53" width="4.80" height="4.75" fill="#d5ddd6"/>
<text x="157.70" y="532.28" font-size="8.2" textLength="24.40" lengthAdjust="spacingAndGlyphs">3′ UTR</text>
<rect x="149.50" y="539.56" width="4.80" height="4.75" fill="#a8b9ab"/>
<text x="157.70" y="544.31" font-size="8.2" textLength="71.80" lengthAdjust="spacingAndGlyphs">Downstream (&lt;1kb)</text>
<rect x="149.50" y="551.59" width="4.80" height="4.75" fill="#6e8f7a"/>
<text x="157.70" y="556.34" font-size="8.2" textLength="73.20" lengthAdjust="spacingAndGlyphs">Downstream (1-2kb)</text>
<rect x="149.50" y="563.62" width="4.80" height="4.75" fill="#4d7a61"/>
<text x="157.70" y="568.37" font-size="8.2" textLength="73.20" lengthAdjust="spacingAndGlyphs">Downstream (2-3kb)</text>
<rect x="149.50" y="575.65" width="4.80" height="4.75" fill="#37644e"/>
<text x="157.70" y="580.40" font-size="8.2" textLength="59.40" lengthAdjust="spacingAndGlyphs">Distal Intergenic</text>
<text x="247.80" y="436.60" font-size="12.0" font-weight="bold" fill="#000">E</text>
<line x1="345.50" y1="456.00" x2="345.50" y2="547.50" stroke="#4a6aa8" stroke-width="1.1" stroke-dasharray="3.2 1.9"/>
<line x1="425.70" y1="456.00" x2="425.70" y2="547.50" stroke="#4a6aa8" stroke-width="1.1" stroke-dasharray="3.2 1.9"/>
<path d="M267.00 464.00L269.10 466.10L267.00 468.20L264.90 466.10Z" fill="#e38b1c"/>
<path d="M273.80 466.70L275.90 468.80L273.80 470.90L271.70 468.80Z" fill="#e38b1c"/>
<path d="M264.20 476.00L266.30 478.10L264.20 480.20L262.10 478.10Z" fill="#e38b1c"/>
<path d="M272.70 472.60L274.80 474.70L272.70 476.80L270.60 474.70Z" fill="#e38b1c"/>
<path d="M275.80 472.10L277.90 474.20L275.80 476.30L273.70 474.20Z" fill="#e38b1c"/>
<path d="M285.80 468.00L287.90 470.10L285.80 472.20L283.70 470.10Z" fill="#e38b1c"/>
<path d="M286.50 467.50L288.60 469.60L286.50 471.70L284.40 469.60Z" fill="#e38b1c"/>
<path d="M291.90 464.40L294.00 466.50L291.90 468.60L289.80 466.50Z" fill="#e38b1c"/>
<path d="M295.50 464.00L297.60 466.10L295.50 468.20L293.40 466.10Z" fill="#e38b1c"/>
<path d="M300.40 464.00L302.50 466.10L300.40 468.20L298.30 466.10Z" fill="#e38b1c"/>
<path d="M304.20 464.00L306.30 466.10L304.20 468.20L302.10 466.10Z" fill="#e38b1c"/>
<path d="M316.50 464.00L318.60 466.10L316.50 468.20L314.40 466.10Z" fill="#e38b1c"/>
<path d="M321.50 457.50L323.60 459.60L321.50 461.70L319.40 459.60Z" fill="#e38b1c"/>
<path d="M294.20 468.30L296.30 470.40L294.20 472.50L292.10 470.40Z" fill="#e38b1c"/>
<path d="M296.50 469.10L298.60 471.20L296.50 473.30L294.40 471.20Z" fill="#e38b1c"/>
<path d="M298.80 468.30L300.90 470.40L298.80 472.50L296.70 470.40Z" fill="#e38b1c"/>
<path d="M292.70 476.00L294.80 478.10L292.70 480.20L290.60 478.10Z" fill="#e38b1c"/>
<path d="M298.10 478.30L300.20 480.40L298.10 482.50L296.00 480.40Z" fill="#e38b1c"/>
<path d="M295.00 481.40L297.10 483.50L295.00 485.60L292.90 483.50Z" fill="#e38b1c"/>
<path d="M301.20 474.40L303.30 476.50L301.20 478.60L299.10 476.50Z" fill="#e38b1c"/>
<path d="M304.20 474.40L306.30 476.50L304.20 478.60L302.10 476.50Z" fill="#e38b1c"/>
<path d="M305.80 471.40L307.90 473.50L305.80 475.60L303.70 473.50Z" fill="#e38b1c"/>
<path d="M305.80 477.50L307.90 479.60L305.80 481.70L303.70 479.60Z" fill="#e38b1c"/>
<path d="M309.60 480.60L311.70 482.70L309.60 484.80L307.50 482.70Z" fill="#e38b1c"/>
<path d="M311.90 469.10L314.00 471.20L311.90 473.30L309.80 471.20Z" fill="#e38b1c"/>
<path d="M315.00 471.40L317.10 473.50L315.00 475.60L312.90 473.50Z" fill="#e38b1c"/>
<path d="M316.50 477.50L318.60 479.60L316.50 481.70L314.40 479.60Z" fill="#e38b1c"/>
<path d="M319.60 474.40L321.70 476.50L319.60 478.60L317.50 476.50Z" fill="#e38b1c"/>
<path d="M321.20 476.70L323.30 478.80L321.20 480.90L319.10 478.80Z" fill="#e38b1c"/>
<path d="M325.80 471.40L327.90 473.50L325.80 475.60L323.70 473.50Z" fill="#e38b1c"/>
<path d="M328.80 472.90L330.90 475.00L328.80 477.10L326.70 475.00Z" fill="#e38b1c"/>
<path d="M330.40 479.10L332.50 481.20L330.40 483.30L328.30 481.20Z" fill="#e38b1c"/>
<path d="M331.90 465.20L334.00 467.30L331.90 469.40L329.80 467.30Z" fill="#e38b1c"/>
<path d="M338.10 462.50L340.20 464.60L338.10 466.70L336.00 464.60Z" fill="#e38b1c"/>
<path d="M332.70 464.80L334.80 466.90L332.70 469.00L330.60 466.90Z" fill="#e38b1c"/>
<path d="M347.30 467.10L349.40 469.20L347.30 471.30L345.20 469.20Z" fill="#e38b1c"/>
<path d="M345.80 466.40L347.90 468.50L345.80 470.60L343.70 468.50Z" fill="#e38b1c"/>
<path d="M361.20 464.10L363.30 466.20L361.20 468.30L359.10 466.20Z" fill="#e38b1c"/>
<path d="M370.40 468.70L372.50 470.80L370.40 472.90L368.30 470.80Z" fill="#e38b1c"/>
<path d="M342.70 468.70L344.80 470.80L342.70 472.90L340.60 470.80Z" fill="#e38b1c"/>
<path d="M331.20 467.90L333.30 470.00L331.20 472.10L329.10 470.00Z" fill="#e38b1c"/>
<path d="M326.50 471.00L328.60 473.10L326.50 475.20L324.40 473.10Z" fill="#e38b1c"/>
<path d="M328.00 472.50L330.10 474.60L328.00 476.70L325.90 474.60Z" fill="#e38b1c"/>
<path d="M331.20 475.60L333.30 477.70L331.20 479.80L329.10 477.70Z" fill="#e38b1c"/>
<path d="M333.50 476.40L335.60 478.50L333.50 480.60L331.40 478.50Z" fill="#e38b1c"/>
<path d="M328.80 478.70L330.90 480.80L328.80 482.90L326.70 480.80Z" fill="#e38b1c"/>
<path d="M328.00 481.00L330.10 483.10L328.00 485.20L325.90 483.10Z" fill="#e38b1c"/>
<path d="M332.70 482.50L334.80 484.60L332.70 486.70L330.60 484.60Z" fill="#e38b1c"/>
<path d="M335.00 483.30L337.10 485.40L335.00 487.50L332.90 485.40Z" fill="#e38b1c"/>
<path d="M339.60 480.20L341.70 482.30L339.60 484.40L337.50 482.30Z" fill="#e38b1c"/>
<path d="M341.20 483.30L343.30 485.40L341.20 487.50L339.10 485.40Z" fill="#e38b1c"/>
<path d="M341.90 474.80L344.00 476.90L341.90 479.00L339.80 476.90Z" fill="#e38b1c"/>
<path d="M343.50 476.40L345.60 478.50L343.50 480.60L341.40 478.50Z" fill="#e38b1c"/>
<path d="M344.20 479.40L346.30 481.50L344.20 483.60L342.10 481.50Z" fill="#e38b1c"/>
<path d="M350.40 480.20L352.50 482.30L350.40 484.40L348.30 482.30Z" fill="#e38b1c"/>
<path d="M351.90 481.00L354.00 483.10L351.90 485.20L349.80 483.10Z" fill="#e38b1c"/>
<path d="M352.70 475.60L354.80 477.70L352.70 479.80L350.60 477.70Z" fill="#e38b1c"/>
<path d="M354.20 473.30L356.30 475.40L354.20 477.50L352.10 475.40Z" fill="#e38b1c"/>
<path d="M361.20 479.40L363.30 481.50L361.20 483.60L359.10 481.50Z" fill="#e38b1c"/>
<path d="M363.50 482.50L365.60 484.60L363.50 486.70L361.40 484.60Z" fill="#e38b1c"/>
<path d="M366.50 479.40L368.60 481.50L366.50 483.60L364.40 481.50Z" fill="#e38b1c"/>
<path d="M369.60 479.40L371.70 481.50L369.60 483.60L367.50 481.50Z" fill="#e38b1c"/>
<path d="M371.90 479.40L374.00 481.50L371.90 483.60L369.80 481.50Z" fill="#e38b1c"/>
<path d="M374.20 474.10L376.30 476.20L374.20 478.30L372.10 476.20Z" fill="#e38b1c"/>
<path d="M375.80 483.30L377.90 485.40L375.80 487.50L373.70 485.40Z" fill="#e38b1c"/>
<path d="M379.60 482.50L381.70 484.60L379.60 486.70L377.50 484.60Z" fill="#e38b1c"/>
<path d="M402.30 479.90L404.40 482.00L402.30 484.10L400.20 482.00Z" fill="#e38b1c"/>
<path d="M394.00 519.70L396.10 521.80L394.00 523.90L391.90 521.80Z" fill="#e38b1c"/>
<path d="M395.30 522.40L397.40 524.50L395.30 526.60L393.20 524.50Z" fill="#e38b1c"/>
<path d="M417.20 517.50L419.30 519.60L417.20 521.70L415.10 519.60Z" fill="#e38b1c"/>
<path d="M444.10 517.00L446.20 519.10L444.10 521.20L442.00 519.10Z" fill="#e38b1c"/>
<path d="M429.30 522.90L431.40 525.00L429.30 527.10L427.20 525.00Z" fill="#e38b1c"/>
<path d="M426.30 526.40L428.40 528.50L426.30 530.60L424.20 528.50Z" fill="#e38b1c"/>
<path d="M432.00 528.30L434.10 530.40L432.00 532.50L429.90 530.40Z" fill="#e38b1c"/>
<path d="M447.30 526.40L449.40 528.50L447.30 530.60L445.20 528.50Z" fill="#e38b1c"/>
<path d="M444.10 532.30L446.20 534.40L444.10 536.50L442.00 534.40Z" fill="#e38b1c"/>
<path d="M472.40 528.30L474.50 530.40L472.40 532.50L470.30 530.40Z" fill="#e38b1c"/>
<path d="M473.40 526.40L475.50 528.50L473.40 530.60L471.30 528.50Z" fill="#e38b1c"/>
<path d="M280.00 469.90L282.10 472.00L280.00 474.10L277.90 472.00Z" fill="#e38b1c"/>
<path d="M283.00 465.90L285.10 468.00L283.00 470.10L280.90 468.00Z" fill="#e38b1c"/>
<path d="M288.00 471.90L290.10 474.00L288.00 476.10L285.90 474.00Z" fill="#e38b1c"/>
<path d="M300.00 468.90L302.10 471.00L300.00 473.10L297.90 471.00Z" fill="#e38b1c"/>
<path d="M307.00 466.90L309.10 469.00L307.00 471.10L304.90 469.00Z" fill="#e38b1c"/>
<path d="M313.00 473.90L315.10 476.00L313.00 478.10L310.90 476.00Z" fill="#e38b1c"/>
<path d="M318.00 467.90L320.10 470.00L318.00 472.10L315.90 470.00Z" fill="#e38b1c"/>
<path d="M323.00 478.90L325.10 481.00L323.00 483.10L320.90 481.00Z" fill="#e38b1c"/>
<path d="M327.00 467.90L329.10 470.00L327.00 472.10L324.90 470.00Z" fill="#e38b1c"/>
<path d="M335.00 469.90L337.10 472.00L335.00 474.10L332.90 472.00Z" fill="#e38b1c"/>
<path d="M337.00 472.90L339.10 475.00L337.00 477.10L334.90 475.00Z" fill="#e38b1c"/>
<path d="M349.00 469.90L351.10 472.00L349.00 474.10L346.90 472.00Z" fill="#e38b1c"/>
<path d="M357.00 467.90L359.10 470.00L357.00 472.10L354.90 470.00Z" fill="#e38b1c"/>
<path d="M365.00 475.90L367.10 478.00L365.00 480.10L362.90 478.00Z" fill="#e38b1c"/>
<path d="M378.00 477.90L380.10 480.00L378.00 482.10L375.90 480.00Z" fill="#e38b1c"/>
<path d="M383.00 480.90L385.10 483.00L383.00 485.10L380.90 483.00Z" fill="#e38b1c"/>
<path d="M262.40 468.30L264.50 470.40L262.40 472.50L260.30 470.40Z" fill="#5aab3a"/>
<path d="M277.80 475.20L279.90 477.30L277.80 479.40L275.70 477.30Z" fill="#5aab3a"/>
<path d="M283.90 477.80L286.00 479.90L283.90 482.00L281.80 479.90Z" fill="#5aab3a"/>
<path d="M290.40 466.00L292.50 468.10L290.40 470.20L288.30 468.10Z" fill="#5aab3a"/>
<path d="M292.70 472.10L294.80 474.20L292.70 476.30L290.60 474.20Z" fill="#5aab3a"/>
<path d="M306.80 466.70L308.90 468.80L306.80 470.90L304.70 468.80Z" fill="#5aab3a"/>
<path d="M311.20 472.90L313.30 475.00L311.20 477.10L309.10 475.00Z" fill="#5aab3a"/>
<path d="M315.80 473.70L317.90 475.80L315.80 477.90L313.70 475.80Z" fill="#5aab3a"/>
<path d="M312.70 480.30L314.80 482.40L312.70 484.50L310.60 482.40Z" fill="#5aab3a"/>
<path d="M321.50 468.00L323.60 470.10L321.50 472.20L319.40 470.10Z" fill="#5aab3a"/>
<path d="M326.50 483.70L328.60 485.80L326.50 487.90L324.40 485.80Z" fill="#5aab3a"/>
<path d="M331.90 472.10L334.00 474.20L331.90 476.30L329.80 474.20Z" fill="#5aab3a"/>
<path d="M347.30 464.10L349.40 466.20L347.30 468.30L345.20 466.20Z" fill="#5aab3a"/>
<path d="M339.60 467.60L341.70 469.70L339.60 471.80L337.50 469.70Z" fill="#5aab3a"/>
<path d="M333.50 468.70L335.60 470.80L333.50 472.90L331.40 470.80Z" fill="#5aab3a"/>
<path d="M331.90 471.70L334.00 473.80L331.90 475.90L329.80 473.80Z" fill="#5aab3a"/>
<path d="M343.50 472.50L345.60 474.60L343.50 476.70L341.40 474.60Z" fill="#5aab3a"/>
<path d="M351.50 473.70L353.60 475.80L351.50 477.90L349.40 475.80Z" fill="#5aab3a"/>
<path d="M355.80 484.40L357.90 486.50L355.80 488.60L353.70 486.50Z" fill="#5aab3a"/>
<path d="M374.20 472.50L376.30 474.60L374.20 476.70L372.10 474.60Z" fill="#5aab3a"/>
<path d="M381.20 476.40L383.30 478.50L381.20 480.60L379.10 478.50Z" fill="#5aab3a"/>
<path d="M326.50 484.10L328.60 486.20L326.50 488.30L324.40 486.20Z" fill="#5aab3a"/>
<path d="M433.50 467.60L435.60 469.70L433.50 471.80L431.40 469.70Z" fill="#5aab3a"/>
<path d="M472.90 520.20L475.00 522.30L472.90 524.40L470.80 522.30Z" fill="#5aab3a"/>
<path d="M475.60 520.20L477.70 522.30L475.60 524.40L473.50 522.30Z" fill="#5aab3a"/>
<path d="M296.00 470.90L298.10 473.00L296.00 475.10L293.90 473.00Z" fill="#5aab3a"/>
<path d="M303.00 469.90L305.10 472.00L303.00 474.10L300.90 472.00Z" fill="#5aab3a"/>
<path d="M318.00 475.90L320.10 478.00L318.00 480.10L315.90 478.00Z" fill="#5aab3a"/>
<path d="M323.00 465.20L325.10 467.30L323.00 469.40L320.90 467.30Z" fill="#a3102e"/>
<path d="M308.80 472.10L310.90 474.20L308.80 476.30L306.70 474.20Z" fill="#a3102e"/>
<path d="M356.50 471.30L358.60 473.40L356.50 475.50L354.40 473.40Z" fill="#a3102e"/>
<path d="M356.50 479.90L358.60 482.00L356.50 484.10L354.40 482.00Z" fill="#a3102e"/>
<path d="M367.00 483.30L369.10 485.40L367.00 487.50L364.90 485.40Z" fill="#a3102e"/>
<path d="M427.10 522.40L429.20 524.50L427.10 526.60L425.00 524.50Z" fill="#a3102e"/>
<path d="M420.90 525.60L423.00 527.70L420.90 529.80L418.80 527.70Z" fill="#a3102e"/>
<path d="M423.10 529.10L425.20 531.20L423.10 533.30L421.00 531.20Z" fill="#a3102e"/>
<path d="M410.20 533.10L412.30 535.20L410.20 537.30L408.10 535.20Z" fill="#a3102e"/>
<path d="M420.40 533.10L422.50 535.20L420.40 537.30L418.30 535.20Z" fill="#a3102e"/>
<path d="M418.50 539.90L420.60 542.00L418.50 544.10L416.40 542.00Z" fill="#a3102e"/>
<path d="M420.40 539.90L422.50 542.00L420.40 544.10L418.30 542.00Z" fill="#a3102e"/>
<path d="M441.40 521.60L443.50 523.70L441.40 525.80L439.30 523.70Z" fill="#a3102e"/>
<path d="M443.30 526.90L445.40 529.00L443.30 531.10L441.20 529.00Z" fill="#a3102e"/>
<path d="M454.60 522.10L456.70 524.20L454.60 526.30L452.50 524.20Z" fill="#a3102e"/>
<line x1="262.50" y1="500.90" x2="510.00" y2="500.90" stroke="#111" stroke-width="1.6"/>
<line x1="385.80" y1="441.40" x2="385.80" y2="559.20" stroke="#111" stroke-width="1.6"/>
<line x1="382.80" y1="445.00" x2="385.70" y2="445.00" stroke="#231f20" stroke-width="1.0"/>
<text x="379.40" y="447.90" font-size="8.2" text-anchor="end">6</text>
<line x1="382.80" y1="463.70" x2="385.70" y2="463.70" stroke="#231f20" stroke-width="1.0"/>
<text x="379.40" y="466.60" font-size="8.2" text-anchor="end">4</text>
<line x1="382.80" y1="482.40" x2="385.70" y2="482.40" stroke="#231f20" stroke-width="1.0"/>
<text x="379.40" y="485.30" font-size="8.2" text-anchor="end">2</text>
<line x1="382.80" y1="519.80" x2="385.70" y2="519.80" stroke="#231f20" stroke-width="1.0"/>
<text x="379.40" y="522.70" font-size="8.2" text-anchor="end">−2</text>
<line x1="382.80" y1="538.50" x2="385.70" y2="538.50" stroke="#231f20" stroke-width="1.0"/>
<text x="379.40" y="541.40" font-size="8.2" text-anchor="end">−4</text>
<line x1="382.80" y1="557.20" x2="385.70" y2="557.20" stroke="#231f20" stroke-width="1.0"/>
<text x="379.40" y="560.10" font-size="8.2" text-anchor="end">−6</text>
<line x1="264.80" y1="501.10" x2="264.80" y2="504.00" stroke="#231f20" stroke-width="1.0"/>
<text x="264.80" y="515.40" font-size="8.2" text-anchor="middle">−0.6</text>
<line x1="305.10" y1="501.10" x2="305.10" y2="504.00" stroke="#231f20" stroke-width="1.0"/>
<text x="305.10" y="515.40" font-size="8.2" text-anchor="middle">−0.4</text>
<line x1="345.40" y1="501.10" x2="345.40" y2="504.00" stroke="#231f20" stroke-width="1.0"/>
<text x="345.40" y="515.40" font-size="8.2" text-anchor="middle">−0.2</text>
<line x1="426.00" y1="501.10" x2="426.00" y2="504.00" stroke="#231f20" stroke-width="1.0"/>
<text x="426.00" y="515.40" font-size="8.2" text-anchor="middle">0.2</text>
<line x1="466.30" y1="501.10" x2="466.30" y2="504.00" stroke="#231f20" stroke-width="1.0"/>
<text x="466.30" y="515.40" font-size="8.2" text-anchor="middle">0.4</text>
<line x1="506.60" y1="501.10" x2="506.60" y2="504.00" stroke="#231f20" stroke-width="1.0"/>
<text x="506.60" y="515.40" font-size="8.2" text-anchor="middle">0.6</text>
<text x="376.20" y="510.20" font-size="8.2" text-anchor="middle">0</text>
<text x="265.80" y="452.00" font-size="8.7" textLength="11.40" lengthAdjust="spacingAndGlyphs">Q1</text>
<text x="494.90" y="452.00" font-size="8.7" textLength="12.00" lengthAdjust="spacingAndGlyphs">Q2</text>
<text x="266.00" y="557.80" font-size="8.7" textLength="11.50" lengthAdjust="spacingAndGlyphs">Q3</text>
<text x="495.20" y="557.80" font-size="8.7" textLength="11.30" lengthAdjust="spacingAndGlyphs">Q4</text>
<text x="266.40" y="497.10" font-size="8.8" style="font-family:'Liberation Serif',serif" textLength="33.20" lengthAdjust="spacingAndGlyphs">Δβ-value</text>
<text x="363.60" y="571.40" font-size="8.2" textLength="112.80" lengthAdjust="spacingAndGlyphs">DBCs Green(Q1) vs Red(Q4):</text>
<text x="478.60" y="571.40" font-size="8.2" textLength="5.40" lengthAdjust="spacingAndGlyphs" font-style="italic">P</text>
<text x="483.80" y="571.40" font-size="8.2" textLength="25.80" lengthAdjust="spacingAndGlyphs">&lt;0.001</text>
<rect x="0.00" y="0.00" width="520.00" height="1.10" fill="#000"/>
<rect x="0.00" y="0.00" width="1.10" height="613.00" fill="#000"/>
<rect x="518.85" y="0.00" width="1.15" height="613.00" fill="#000"/>
<rect x="0.00" y="611.70" width="520.00" height="1.30" fill="#000"/>
</svg></body></html>
